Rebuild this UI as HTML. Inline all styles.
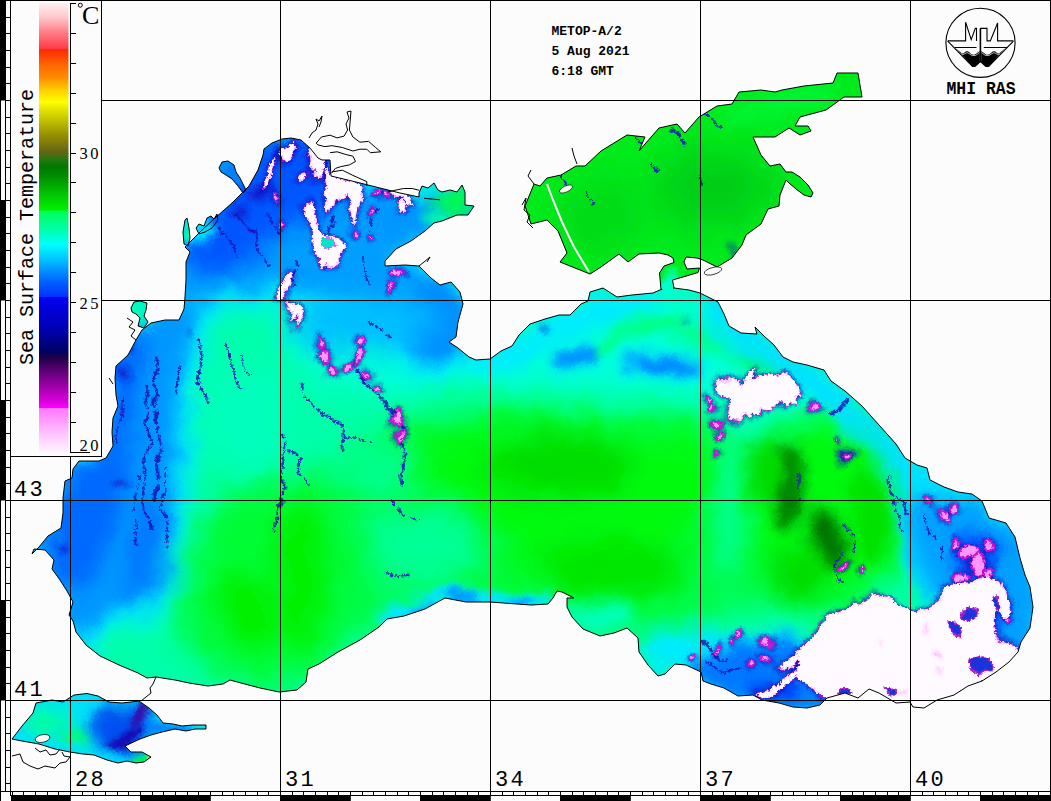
<!DOCTYPE html>
<html><head><meta charset="utf-8"><title>SST Black Sea</title>
<style>html,body{margin:0;padding:0;background:#fcfcfc;}body{width:1051px;height:801px;overflow:hidden;font-family:"Liberation Mono",monospace;}svg{display:block;}</style></head><body>
<svg width="1051" height="801" viewBox="0 0 1051 801">
<defs>
<clipPath id="sea"><path d="M185.0,247.0 L200.0,232.0 L215.0,218.0 L232.0,203.0 L249.0,186.0 L258.0,170.0 L263.0,155.0 L264.0,149.0 L272.0,143.0 L282.0,139.0 L291.0,138.0 L301.0,140.0 L310.0,148.0 L318.0,158.0 L322.0,160.0 L330.0,160.0 L331.0,176.0 L360.0,183.0 L400.0,193.0 L419.0,197.0 L419.0,193.0 L422.0,186.0 L428.0,188.0 L434.0,183.0 L438.0,190.0 L442.0,192.0 L450.0,190.0 L457.0,192.0 L462.0,185.0 L465.0,192.0 L465.0,205.0 L474.0,206.0 L468.0,215.0 L457.0,215.0 L442.0,221.0 L434.0,223.0 L425.0,231.0 L411.0,241.0 L396.0,249.0 L385.0,261.0 L385.0,266.0 L405.0,265.0 L419.0,266.0 L431.0,278.0 L440.0,285.0 L451.0,282.0 L460.0,292.0 L463.0,304.0 L458.0,322.0 L456.0,337.0 L449.0,342.0 L458.0,348.0 L469.0,357.0 L476.0,360.0 L490.0,359.0 L501.0,351.0 L512.0,346.0 L519.0,335.0 L530.0,324.0 L545.0,319.0 L559.0,315.0 L570.0,315.0 L581.0,304.0 L588.0,301.0 L590.0,292.0 L603.0,288.0 L617.0,297.0 L632.0,295.0 L653.0,293.0 L661.0,289.5 L674.0,288.0 L689.0,290.0 L700.0,293.0 L718.0,302.0 L724.0,314.0 L729.0,326.0 L741.0,333.0 L757.0,334.0 L755.0,327.0 L764.0,336.0 L774.0,345.0 L783.0,357.0 L793.0,362.0 L807.0,365.0 L824.0,370.0 L831.0,381.0 L845.0,391.0 L862.0,406.0 L879.0,425.0 L896.0,444.0 L905.0,458.0 L917.0,465.0 L927.0,468.0 L930.0,480.0 L944.0,487.0 L958.0,492.0 L972.0,494.0 L982.0,501.0 L989.0,518.0 L1006.0,523.0 L1015.0,537.0 L1020.0,558.0 L1025.0,575.0 L1030.0,587.0 L1033.0,607.0 L1030.0,628.0 L1021.0,642.0 L1018.0,652.0 L1009.0,662.0 L996.0,672.0 L982.0,681.0 L968.0,686.0 L954.0,695.0 L937.0,700.0 L924.0,708.0 L913.0,707.0 L910.0,702.0 L896.0,703.0 L879.0,693.0 L869.0,689.0 L858.0,698.0 L845.0,693.0 L827.0,698.0 L820.0,705.0 L807.0,708.0 L793.0,707.0 L779.0,703.0 L762.0,700.0 L753.0,695.0 L738.0,696.0 L724.0,688.0 L711.0,684.0 L703.0,681.0 L701.0,672.0 L686.0,665.0 L675.0,664.0 L665.0,674.0 L658.0,676.0 L648.0,665.0 L639.0,652.0 L638.0,638.0 L627.0,628.0 L614.0,633.0 L600.0,636.0 L583.0,629.0 L572.0,617.0 L567.0,607.0 L567.0,598.0 L574.0,598.0 L562.0,592.0 L557.0,591.0 L553.0,598.0 L548.0,604.0 L531.0,605.0 L517.0,604.0 L490.0,602.0 L466.0,602.0 L445.0,598.0 L425.0,609.0 L404.0,616.0 L387.0,619.0 L379.0,627.0 L360.0,640.0 L338.0,652.0 L319.0,664.0 L308.0,669.0 L306.0,682.0 L297.0,690.0 L279.0,692.0 L260.0,688.0 L241.0,683.0 L230.0,680.0 L223.0,684.0 L208.0,686.0 L189.0,683.0 L175.0,680.0 L156.0,677.0 L147.0,678.0 L138.0,673.0 L119.0,665.0 L100.0,656.0 L86.0,645.0 L76.0,632.0 L73.0,621.0 L69.0,615.0 L73.0,602.0 L67.0,591.0 L60.0,580.0 L52.0,569.0 L54.0,560.0 L45.0,550.0 L34.0,549.0 L32.0,554.0 L39.0,547.0 L48.0,536.0 L61.0,528.0 L63.0,513.0 L63.0,498.0 L65.0,481.0 L72.0,478.0 L73.0,469.0 L79.0,461.0 L99.0,461.0 L106.0,458.0 L113.0,446.0 L112.0,432.0 L113.0,418.0 L118.0,406.0 L116.0,395.0 L115.0,378.0 L116.0,366.0 L128.0,355.0 L136.0,340.0 L142.0,330.0 L151.0,323.0 L165.0,320.0 L179.0,320.0 L184.0,309.0 L185.0,297.0 L186.0,280.0 L186.0,262.0 L190.0,252.0Z M534.0,184.0 L525.0,206.0 L531.0,224.0 L547.0,220.0 L558.0,231.0 L567.0,253.0 L560.0,262.0 L590.0,274.0 L601.0,267.0 L619.0,254.0 L628.0,262.0 L639.0,254.0 L659.0,253.0 L668.0,255.0 L673.0,258.0 L674.0,262.5 L664.0,266.0 L659.5,273.0 L661.0,289.5 L674.0,288.0 L672.5,280.0 L683.0,277.0 L698.0,272.5 L699.5,268.0 L687.0,269.0 L684.0,262.0 L686.0,257.0 L697.0,258.0 L703.0,260.0 L717.0,267.0 L732.0,258.0 L742.0,245.0 L746.0,235.0 L761.0,224.0 L768.0,209.0 L779.0,206.0 L780.0,195.0 L786.0,180.0 L789.0,183.0 L796.0,189.0 L804.0,195.0 L811.0,197.0 L813.0,193.0 L808.0,185.0 L800.0,177.0 L792.0,172.0 L786.0,172.0 L780.0,164.0 L770.0,166.0 L761.0,155.0 L753.0,137.0 L775.0,137.0 L789.0,128.0 L800.0,135.0 L811.0,131.0 L808.0,126.0 L795.0,126.0 L800.0,117.0 L826.0,110.0 L844.0,97.0 L862.0,97.0 L858.0,73.0 L837.0,73.0 L833.0,83.0 L804.0,86.0 L782.0,90.0 L775.0,92.0 L761.0,90.0 L739.0,92.0 L732.0,104.0 L717.0,106.0 L699.0,117.0 L685.0,133.0 L677.0,124.0 L659.0,128.0 L645.0,144.0 L639.0,151.0 L645.0,137.0 L627.0,135.0 L601.0,151.0 L585.0,166.0 L576.0,166.0 L561.0,175.0 L547.0,178.0 L540.0,186.0Z M12.0,739.0 L22.0,726.0 L33.0,713.0 L36.0,703.0 L52.0,700.0 L63.0,702.0 L74.0,695.0 L87.0,693.5 L98.0,696.0 L109.0,702.0 L122.0,703.0 L131.0,702.0 L139.0,701.0 L149.0,708.0 L157.0,715.0 L163.0,723.0 L173.0,724.0 L182.0,726.0 L193.0,725.0 L206.0,725.0 L206.0,729.0 L195.0,729.0 L186.0,731.0 L175.0,729.0 L162.0,732.0 L151.0,735.0 L140.0,739.0 L125.0,746.0 L131.0,752.0 L142.0,752.0 L151.0,757.0 L144.0,762.0 L136.0,763.0 L127.0,761.0 L118.0,763.0 L107.0,760.0 L94.0,755.0 L83.0,754.0 L70.0,752.0 L55.0,749.0 L39.0,744.0 L22.0,741.0Z M219.0,168.0 L222.0,162.0 L228.0,161.0 L234.0,165.0 L236.0,172.0 L240.0,178.0 L243.0,184.0 L246.0,190.0 L243.0,193.0 L238.0,186.0 L232.0,179.0 L226.0,175.0 L221.0,172.0Z M184.0,244.0 L183.0,232.0 L185.0,220.0 L187.0,218.0 L189.0,228.0 L190.0,238.0 L188.0,246.0Z M196.0,228.0 L199.0,224.0 L204.0,226.0 L207.0,218.0 L211.0,216.0 L214.0,219.0 L217.0,214.0 L218.0,220.0 L212.0,228.0 L205.0,232.0 L199.0,234.0Z M131.0,308.0 L134.0,302.0 L140.0,301.0 L147.0,303.0 L146.0,310.0 L144.0,316.0 L148.0,322.0 L144.0,328.0 L138.0,326.0 L140.0,318.0 L136.0,314.0 L132.0,312.0Z"/></clipPath>
<filter id="b2" x="-150%" y="-150%" width="400%" height="400%"><feGaussianBlur stdDeviation="2"/></filter>
<filter id="b3" x="-150%" y="-150%" width="400%" height="400%"><feGaussianBlur stdDeviation="3"/></filter>
<filter id="b4" x="-150%" y="-150%" width="400%" height="400%"><feGaussianBlur stdDeviation="4"/></filter>
<filter id="b5" x="-150%" y="-150%" width="400%" height="400%"><feGaussianBlur stdDeviation="5"/></filter>
<filter id="b6" x="-150%" y="-150%" width="400%" height="400%"><feGaussianBlur stdDeviation="6"/></filter>
<filter id="b7" x="-150%" y="-150%" width="400%" height="400%"><feGaussianBlur stdDeviation="7"/></filter>
<filter id="b8" x="-150%" y="-150%" width="400%" height="400%"><feGaussianBlur stdDeviation="8"/></filter>
<filter id="b9" x="-150%" y="-150%" width="400%" height="400%"><feGaussianBlur stdDeviation="9"/></filter>
<filter id="b10" x="-150%" y="-150%" width="400%" height="400%"><feGaussianBlur stdDeviation="10"/></filter>
<filter id="b11" x="-150%" y="-150%" width="400%" height="400%"><feGaussianBlur stdDeviation="11"/></filter>
<filter id="b12" x="-150%" y="-150%" width="400%" height="400%"><feGaussianBlur stdDeviation="12"/></filter>
<filter id="b13" x="-150%" y="-150%" width="400%" height="400%"><feGaussianBlur stdDeviation="13"/></filter>
<filter id="b14" x="-150%" y="-150%" width="400%" height="400%"><feGaussianBlur stdDeviation="14"/></filter>
<filter id="b15" x="-150%" y="-150%" width="400%" height="400%"><feGaussianBlur stdDeviation="15"/></filter>
<filter id="b16" x="-150%" y="-150%" width="400%" height="400%"><feGaussianBlur stdDeviation="16"/></filter>
<filter id="b17" x="-150%" y="-150%" width="400%" height="400%"><feGaussianBlur stdDeviation="17"/></filter>
<filter id="b18" x="-150%" y="-150%" width="400%" height="400%"><feGaussianBlur stdDeviation="18"/></filter>
<filter id="b19" x="-150%" y="-150%" width="400%" height="400%"><feGaussianBlur stdDeviation="19"/></filter>
<filter id="b20" x="-150%" y="-150%" width="400%" height="400%"><feGaussianBlur stdDeviation="20"/></filter>
<filter id="b21" x="-150%" y="-150%" width="400%" height="400%"><feGaussianBlur stdDeviation="21"/></filter>
<filter id="b22" x="-150%" y="-150%" width="400%" height="400%"><feGaussianBlur stdDeviation="22"/></filter>
<filter id="b23" x="-150%" y="-150%" width="400%" height="400%"><feGaussianBlur stdDeviation="23"/></filter>
<filter id="b24" x="-150%" y="-150%" width="400%" height="400%"><feGaussianBlur stdDeviation="24"/></filter>
<filter id="b25" x="-150%" y="-150%" width="400%" height="400%"><feGaussianBlur stdDeviation="25"/></filter>
<filter id="b26" x="-150%" y="-150%" width="400%" height="400%"><feGaussianBlur stdDeviation="26"/></filter>
<filter id="b27" x="-150%" y="-150%" width="400%" height="400%"><feGaussianBlur stdDeviation="27"/></filter>
<filter id="b28" x="-150%" y="-150%" width="400%" height="400%"><feGaussianBlur stdDeviation="28"/></filter>
<filter id="b29" x="-150%" y="-150%" width="400%" height="400%"><feGaussianBlur stdDeviation="29"/></filter>
<filter id="b30" x="-150%" y="-150%" width="400%" height="400%"><feGaussianBlur stdDeviation="30"/></filter>
<filter id="b31" x="-150%" y="-150%" width="400%" height="400%"><feGaussianBlur stdDeviation="31"/></filter>
<filter id="b32" x="-150%" y="-150%" width="400%" height="400%"><feGaussianBlur stdDeviation="32"/></filter>
<filter id="b33" x="-150%" y="-150%" width="400%" height="400%"><feGaussianBlur stdDeviation="33"/></filter>
<filter id="b34" x="-150%" y="-150%" width="400%" height="400%"><feGaussianBlur stdDeviation="34"/></filter>
<filter id="b35" x="-150%" y="-150%" width="400%" height="400%"><feGaussianBlur stdDeviation="35"/></filter>
<filter id="b36" x="-150%" y="-150%" width="400%" height="400%"><feGaussianBlur stdDeviation="36"/></filter>
<filter id="b37" x="-150%" y="-150%" width="400%" height="400%"><feGaussianBlur stdDeviation="37"/></filter>
<filter id="b38" x="-150%" y="-150%" width="400%" height="400%"><feGaussianBlur stdDeviation="38"/></filter>
<filter id="b39" x="-150%" y="-150%" width="400%" height="400%"><feGaussianBlur stdDeviation="39"/></filter>
<filter id="b40" x="-150%" y="-150%" width="400%" height="400%"><feGaussianBlur stdDeviation="40"/></filter>
<filter id="rough" filterUnits="userSpaceOnUse" x="0" y="0" width="1051" height="801"><feTurbulence type="fractalNoise" baseFrequency="0.03" numOctaves="3" seed="4" result="n1"/><feDisplacementMap in="SourceGraphic" in2="n1" scale="22" xChannelSelector="R" yChannelSelector="G" result="d1"/><feTurbulence type="fractalNoise" baseFrequency="0.45" numOctaves="1" seed="9" result="n2"/><feDisplacementMap in="d1" in2="n2" scale="5" xChannelSelector="G" yChannelSelector="R"/></filter>
<filter id="b1" x="-20%" y="-20%" width="140%" height="140%"><feGaussianBlur stdDeviation="1"/></filter>
<linearGradient id="cb" x1="0" y1="0" x2="0" y2="1">
<stop offset="0.0000" stop-color="#fff0f0"/>
<stop offset="0.0315" stop-color="#ffc8cc"/>
<stop offset="0.0678" stop-color="#ff7882"/>
<stop offset="0.1016" stop-color="#ff3c46"/>
<stop offset="0.1032" stop-color="#ff2800"/>
<stop offset="0.1356" stop-color="#ff6400"/>
<stop offset="0.1656" stop-color="#ff8c00"/>
<stop offset="0.1956" stop-color="#ffd200"/>
<stop offset="0.2199" stop-color="#ffff00"/>
<stop offset="0.2461" stop-color="#d7d700"/>
<stop offset="0.2934" stop-color="#969000"/>
<stop offset="0.3312" stop-color="#646414"/>
<stop offset="0.3470" stop-color="#28780f"/>
<stop offset="0.3628" stop-color="#007800"/>
<stop offset="0.3849" stop-color="#008c00"/>
<stop offset="0.4271" stop-color="#00c800"/>
<stop offset="0.4606" stop-color="#00f000"/>
<stop offset="0.4637" stop-color="#00ff5a"/>
<stop offset="0.5047" stop-color="#00ffaa"/>
<stop offset="0.5363" stop-color="#00ffff"/>
<stop offset="0.5678" stop-color="#00c8ff"/>
<stop offset="0.6183" stop-color="#0064ff"/>
<stop offset="0.6536" stop-color="#0032ff"/>
<stop offset="0.6552" stop-color="#0000f0"/>
<stop offset="0.7256" stop-color="#0000b4"/>
<stop offset="0.7760" stop-color="#000064"/>
<stop offset="0.7886" stop-color="#1e0046"/>
<stop offset="0.8265" stop-color="#6e0082"/>
<stop offset="0.8864" stop-color="#dc00dc"/>
<stop offset="0.9006" stop-color="#ff00ff"/>
<stop offset="0.9022" stop-color="#ff78ff"/>
<stop offset="0.9621" stop-color="#ffc8ff"/>
<stop offset="1.0000" stop-color="#fff5ff"/>
</linearGradient>
</defs>
<rect x="0" y="0" width="1051" height="801" fill="#fcfcfc"/>
<g clip-path="url(#sea)">
<g filter="url(#rough)">
<rect x="-40" y="20" width="1131" height="800" fill="#00ffaa"/>
<path d="M270.0,280.0 L340.0,295.0 L400.0,325.0 L430.0,360.0 L462.0,345.0 L520.0,335.0 L580.0,300.0 L660.0,285.0 L725.0,295.0 L765.0,335.0 L805.0,362.0 L835.0,378.0 L845.0,412.0 L790.0,428.0 L700.0,405.0 L640.0,398.0 L560.0,392.0 L480.0,388.0 L400.0,390.0 L330.0,390.0 L285.0,345.0Z" fill="#00ffd7" filter="url(#b14)"/>
<path d="M470.0,358.0 L520.0,335.0 L560.0,316.0 L585.0,305.0 L600.0,292.0 L650.0,296.0 L660.0,300.0 L640.0,318.0 L600.0,328.0 L560.0,343.0 L520.0,363.0 L480.0,375.0Z" fill="#00ebff" filter="url(#b8)"/>
<path d="M20.0,480.0 L64.0,480.0 L108.0,440.0 L110.0,370.0 L138.0,322.0 L181.0,300.0 L181.0,250.0 L258.0,140.0 L300.0,132.0 L332.0,158.0 L336.0,178.0 L430.0,198.0 L480.0,200.0 L480.0,215.0 L440.0,238.0 L395.0,252.0 L385.0,262.0 L420.0,266.0 L468.0,293.0 L468.0,345.0 L432.0,366.0 L405.0,335.0 L345.0,303.0 L285.0,286.0 L225.0,290.0 L196.0,306.0 L184.0,355.0 L176.0,430.0 L172.0,520.0 L172.0,575.0 L148.0,598.0 L110.0,612.0 L78.0,640.0 L40.0,600.0Z" fill="#00ebff" stroke="#00ebff" stroke-width="36" stroke-linejoin="round" filter="url(#b12)"/>
<path d="M20.0,480.0 L64.0,480.0 L108.0,440.0 L110.0,370.0 L138.0,322.0 L181.0,300.0 L181.0,250.0 L258.0,140.0 L300.0,132.0 L332.0,158.0 L336.0,178.0 L430.0,198.0 L480.0,200.0 L480.0,215.0 L440.0,238.0 L395.0,252.0 L385.0,262.0 L420.0,266.0 L468.0,293.0 L468.0,345.0 L432.0,366.0 L405.0,335.0 L345.0,303.0 L285.0,286.0 L225.0,290.0 L196.0,306.0 L184.0,355.0 L176.0,430.0 L172.0,520.0 L172.0,575.0 L148.0,598.0 L110.0,612.0 L78.0,640.0 L40.0,600.0Z" fill="#0096ff" filter="url(#b10)"/>
<path d="M181.0,250.0 L258.0,140.0 L300.0,132.0 L325.0,160.0 L332.0,205.0 L305.0,240.0 L262.0,252.0 L222.0,272.0 L190.0,270.0Z" fill="#0055ff" filter="url(#b10)"/>
<path d="M108.0,372.0 L136.0,330.0 L150.0,338.0 L134.0,400.0 L128.0,470.0 L116.0,525.0 L100.0,565.0 L80.0,592.0 L44.0,575.0 L60.0,500.0 L63.0,480.0 L108.0,450.0Z" fill="#0069ff" filter="url(#b9)"/>
<ellipse cx="145" cy="545" rx="16" ry="55" fill="#0078ff" filter="url(#b9)" transform="rotate(10 145 545)"/>
<ellipse cx="432" cy="318" rx="20" ry="40" fill="#0082ff" filter="url(#b10)"/>
<ellipse cx="330" cy="250" rx="60" ry="30" fill="#00a0ff" filter="url(#b14)"/>
<ellipse cx="365" cy="322" rx="75" ry="30" fill="#00beff" filter="url(#b14)"/>
<ellipse cx="575" cy="358" rx="28" ry="12" fill="#00ebff" filter="url(#b8)" transform="rotate(-10 575 358)"/>
<ellipse cx="665" cy="366" rx="42" ry="14" fill="#00ebff" filter="url(#b8)" transform="rotate(5 665 366)"/>
<ellipse cx="575" cy="358" rx="24" ry="9" fill="#0091ff" filter="url(#b5)" transform="rotate(-10 575 358)"/>
<ellipse cx="665" cy="366" rx="36" ry="10" fill="#0087ff" filter="url(#b6)" transform="rotate(5 665 366)"/>
<ellipse cx="545" cy="296" rx="16" ry="7" fill="#00b4ff" filter="url(#b5)"/>
<ellipse cx="650" cy="324" rx="40" ry="9" fill="#00ff82" filter="url(#b6)" transform="rotate(-10 650 324)"/>
<ellipse cx="702" cy="338" rx="32" ry="11" fill="#00ff82" filter="url(#b8)" transform="rotate(20 702 338)"/>
<ellipse cx="765" cy="368" rx="36" ry="11" fill="#00fa50" filter="url(#b8)" transform="rotate(32 765 368)"/>
<ellipse cx="610" cy="345" rx="22" ry="7" fill="#00ff8c" filter="url(#b5)" transform="rotate(-25 610 345)"/>
<path d="M400.0,425.0 L500.0,410.0 L600.0,417.0 L700.0,422.0 L740.0,452.0 L762.0,432.0 L880.0,432.0 L912.0,472.0 L905.0,560.0 L862.0,600.0 L800.0,612.0 L742.0,602.0 L692.0,642.0 L640.0,632.0 L600.0,634.0 L560.0,592.0 L480.0,597.0 L420.0,602.0 L360.0,632.0 L300.0,682.0 L230.0,674.0 L190.0,642.0 L185.0,590.0 L200.0,540.0 L225.0,500.0 L285.0,484.0 L340.0,472.0Z" fill="#00fc46" filter="url(#b16)"/>
<path d="M410.0,432.0 L500.0,420.0 L600.0,430.0 L700.0,428.0 L735.0,470.0 L705.0,525.0 L650.0,585.0 L580.0,600.0 L500.0,575.0 L430.0,520.0 L395.0,470.0Z" fill="#00fa0a" filter="url(#b20)"/>
<ellipse cx="560" cy="465" rx="75" ry="30" fill="#00dc00" filter="url(#b14)"/>
<ellipse cx="610" cy="568" rx="70" ry="28" fill="#00e600" filter="url(#b12)"/>
<ellipse cx="470" cy="560" rx="55" ry="30" fill="#00fa32" filter="url(#b14)"/>
<ellipse cx="425" cy="545" rx="62" ry="45" fill="#00ff96" filter="url(#b16)"/>
<ellipse cx="380" cy="470" rx="40" ry="30" fill="#00ff8c" filter="url(#b14)"/>
<path d="M378.0,612.0 L425.0,597.0 L445.0,588.0 L470.0,592.0 L520.0,594.0 L548.0,594.0 L553.0,600.0 L546.0,609.0 L520.0,610.0 L466.0,608.0 L445.0,604.0 L425.0,615.0 L383.0,628.0Z" fill="#00e6ff" filter="url(#b5)"/>
<ellipse cx="462" cy="598" rx="18" ry="5" fill="#0096ff" filter="url(#b3)"/>
<ellipse cx="520" cy="601" rx="14" ry="4" fill="#00a0ff" filter="url(#b3)"/>
<ellipse cx="420" cy="607" rx="12" ry="5" fill="#00aaff" filter="url(#b3)" transform="rotate(-20 420 607)"/>
<ellipse cx="602" cy="616" rx="36" ry="14" fill="#00ffbe" filter="url(#b8)"/>
<ellipse cx="688" cy="652" rx="46" ry="24" fill="#00ebff" filter="url(#b10)"/>
<path d="M228.0,500.0 L285.0,487.0 L340.0,498.0 L348.0,560.0 L332.0,640.0 L292.0,680.0 L232.0,670.0 L196.0,640.0 L194.0,590.0 L210.0,540.0Z" fill="#00fc32" filter="url(#b18)"/>
<ellipse cx="300" cy="575" rx="24" ry="75" fill="#00f000" filter="url(#b12)"/>
<ellipse cx="250" cy="610" rx="28" ry="40" fill="#00f000" filter="url(#b12)" transform="rotate(-40 250 610)"/>
<ellipse cx="245" cy="415" rx="38" ry="55" fill="#00ffbe" filter="url(#b16)"/>
<ellipse cx="825" cy="510" rx="76" ry="88" fill="#00fa0a" filter="url(#b16)"/>
<ellipse cx="788" cy="485" rx="16" ry="44" fill="#007d00" filter="url(#b7)"/>
<ellipse cx="826" cy="542" rx="17" ry="32" fill="#007300" filter="url(#b7)" transform="rotate(-10 826 542)"/>
<ellipse cx="765" cy="470" rx="18" ry="35" fill="#00dc00" filter="url(#b10)"/>
<ellipse cx="872" cy="515" rx="20" ry="48" fill="#00e100" filter="url(#b9)"/>
<ellipse cx="800" cy="575" rx="30" ry="25" fill="#00dc00" filter="url(#b12)"/>
<ellipse cx="728" cy="505" rx="16" ry="75" fill="#00ff8c" filter="url(#b10)"/>
<ellipse cx="745" cy="410" rx="30" ry="25" fill="#00ffaa" filter="url(#b10)"/>
<path d="M715.0,295.0 L760.0,330.0 L830.0,372.0 L900.0,442.0 L990.0,498.0 L1035.0,560.0 L1040.0,640.0 L1005.0,640.0 L965.0,540.0 L905.0,492.0 L855.0,432.0 L805.0,397.0 L745.0,352.0 L700.0,322.0Z" fill="#00e1ff" filter="url(#b9)"/>
<path d="M690.0,660.0 L735.0,642.0 L790.0,640.0 L830.0,655.0 L845.0,700.0 L800.0,712.0 L740.0,700.0 L690.0,682.0Z" fill="#00ebff" stroke="#00ebff" stroke-width="14" stroke-linejoin="round" filter="url(#b8)"/>
<path d="M690.0,660.0 L735.0,642.0 L790.0,640.0 L830.0,655.0 L845.0,700.0 L800.0,712.0 L740.0,700.0 L690.0,682.0Z" fill="#0078ff" filter="url(#b8)"/>
<ellipse cx="775" cy="690" rx="28" ry="10" fill="#0041f5" filter="url(#b5)"/>
<path d="M905.0,500.0 L960.0,493.0 L1040.0,540.0 L1045.0,640.0 L1000.0,672.0 L960.0,640.0 L940.0,600.0 L915.0,560.0Z" fill="#00ebff" stroke="#00ebff" stroke-width="16" stroke-linejoin="round" filter="url(#b8)"/>
<path d="M905.0,500.0 L960.0,493.0 L1040.0,540.0 L1045.0,640.0 L1000.0,672.0 L960.0,640.0 L940.0,600.0 L915.0,560.0Z" fill="#00a0ff" filter="url(#b10)"/>
<ellipse cx="985" cy="615" rx="25" ry="22" fill="#0069ff" filter="url(#b8)"/>
<ellipse cx="975" cy="555" rx="22" ry="25" fill="#005aff" filter="url(#b7)"/>
<ellipse cx="455" cy="203" rx="22" ry="16" fill="#00fa50" filter="url(#b8)"/>
<ellipse cx="440" cy="222" rx="18" ry="8" fill="#00ffaa" filter="url(#b6)"/>
<path d="M520.0,60.0 L870.0,60.0 L870.0,285.0 L520.0,285.0Z" fill="#00eb1e"/>
<ellipse cx="715" cy="188" rx="60" ry="38" fill="#00cd14" filter="url(#b18)"/>
<ellipse cx="600" cy="215" rx="45" ry="40" fill="#00dc19" filter="url(#b16)"/>
<ellipse cx="780" cy="105" rx="60" ry="14" fill="#00f532" filter="url(#b8)" transform="rotate(-15 780 105)"/>
<ellipse cx="667" cy="284" rx="8" ry="7" fill="#00ffd2" filter="url(#b3)"/>
<ellipse cx="668" cy="274" rx="6" ry="5" fill="#00ff8c" filter="url(#b3)"/>
<path d="M0.0,685.0 L215.0,685.0 L215.0,770.0 L0.0,770.0Z" fill="#00e1fa"/>
<ellipse cx="45" cy="722" rx="22" ry="14" fill="#00ffa0" filter="url(#b8)"/>
<ellipse cx="75" cy="738" rx="14" ry="10" fill="#00ff78" filter="url(#b6)"/>
<ellipse cx="122" cy="728" rx="32" ry="26" fill="#0050f0" filter="url(#b8)"/>
<ellipse cx="168" cy="726" rx="26" ry="8" fill="#0082ff" filter="url(#b4)"/>
<ellipse cx="140" cy="715" rx="5" ry="14" fill="#3c00a0" filter="url(#b3)" transform="rotate(20 140 715)"/>
<ellipse cx="125" cy="738" rx="22" ry="5" fill="#1400aa" filter="url(#b3)" transform="rotate(-25 125 738)"/>
<ellipse cx="140" cy="757" rx="10" ry="5" fill="#00f546" filter="url(#b3)"/>
<ellipse cx="149" cy="757" rx="3" ry="3" fill="#f0f000" filter="url(#b1)"/>
<ellipse cx="232" cy="176" rx="14" ry="18" fill="#0082ff" filter="url(#b4)"/>
<ellipse cx="198" cy="230" rx="22" ry="16" fill="#00dcff" filter="url(#b4)"/>
<ellipse cx="186" cy="232" rx="4" ry="12" fill="#00ff96" filter="url(#b2)"/>
<ellipse cx="140" cy="312" rx="10" ry="14" fill="#00ffb4" filter="url(#b4)"/>
<path d="M159.0,356.0 L156.0,400.0 L155.0,445.0 L157.0,497.0" fill="none" stroke="#1914b9" stroke-width="2.97" stroke-dasharray="2 2 3 5 1 1 4 1" stroke-linecap="round" opacity="0.85"/>
<path d="M198.0,341.0 L201.0,365.0 L204.0,387.0 L209.0,402.0" fill="none" stroke="#1914b9" stroke-width="3.38" stroke-dasharray="2 4 1 4 2 1 1 3" stroke-linecap="round" opacity="0.85"/>
<path d="M149.0,387.0 L145.0,430.0 L143.0,473.0 L147.0,505.0 L152.0,531.0" fill="none" stroke="#1914b9" stroke-width="2.70" stroke-dasharray="3 1 2 1 4 3 1 4" stroke-linecap="round" opacity="0.85"/>
<path d="M175.0,364.0 L177.0,393.0" fill="none" stroke="#1914b9" stroke-width="2.70" stroke-dasharray="1 2 5 5 4 1 4 4" stroke-linecap="round" opacity="0.85"/>
<path d="M226.0,347.0 L232.0,368.0 L238.0,387.0" fill="none" stroke="#1914b9" stroke-width="2.43" stroke-dasharray="3 1 2 1 4 2 2 3" stroke-linecap="round" opacity="0.85"/>
<path d="M166.0,470.0 L163.0,500.0 L166.0,530.0 L172.0,548.0" fill="none" stroke="#1914b9" stroke-width="2.43" stroke-dasharray="2 4 1 4 2 4 5 2" stroke-linecap="round" opacity="0.85"/>
<path d="M137.0,480.0 L133.0,520.0 L138.0,548.0" fill="none" stroke="#1914b9" stroke-width="2.16" stroke-dasharray="1 4 4 5 2 2 1 4" stroke-linecap="round" opacity="0.85"/>
<path d="M120.0,400.0 L118.0,440.0" fill="none" stroke="#1914b9" stroke-width="2.16" stroke-dasharray="5 1 4 1 4 2 3 5" stroke-linecap="round" opacity="0.85"/>
<path d="M245.0,352.0 L252.0,375.0" fill="none" stroke="#1914b9" stroke-width="2.03" stroke-dasharray="4 3 2 3 4 3 2 2" stroke-linecap="round" opacity="0.85"/>
<path d="M235.0,209.0 L245.0,224.0 L255.0,238.0" fill="none" stroke="#1914b9" stroke-width="2.70" stroke-dasharray="2 2 5 2 1 4 2 4" stroke-linecap="round" opacity="0.85"/>
<path d="M222.0,225.0 L230.0,240.0 L240.0,256.0" fill="none" stroke="#1914b9" stroke-width="2.16" stroke-dasharray="3 2 5 3 2 4 1 1" stroke-linecap="round" opacity="0.85"/>
<path d="M250.0,232.0 L262.0,250.0 L270.0,268.0" fill="none" stroke="#1914b9" stroke-width="2.16" stroke-dasharray="4 3 2 2 2 3 3 1" stroke-linecap="round" opacity="0.85"/>
<path d="M268.0,212.0 L280.0,232.0" fill="none" stroke="#1914b9" stroke-width="2.16" stroke-dasharray="5 1 4 4 2 2 5 2" stroke-linecap="round" opacity="0.85"/>
<path d="M336.0,215.0 L330.0,232.0" fill="none" stroke="#1914b9" stroke-width="2.16" stroke-dasharray="4 3 4 3 1 1 2 3" stroke-linecap="round" opacity="0.85"/>
<path d="M382.0,210.0 L372.0,230.0" fill="none" stroke="#1914b9" stroke-width="2.03" stroke-dasharray="5 5 1 1 5 5 2 5" stroke-linecap="round" opacity="0.85"/>
<path d="M297.0,262.0 L300.0,285.0" fill="none" stroke="#1914b9" stroke-width="2.03" stroke-dasharray="4 5 3 2 5 3 5 2" stroke-linecap="round" opacity="0.85"/>
<path d="M362.0,262.0 L366.0,280.0" fill="none" stroke="#1914b9" stroke-width="2.03" stroke-dasharray="1 3 2 2 4 1 3 1" stroke-linecap="round" opacity="0.85"/>
<path d="M302.0,382.0 L310.0,396.0 L320.0,407.0 L332.0,422.0 L342.0,435.0 L341.0,455.0" fill="none" stroke="#1914b9" stroke-width="2.70" stroke-dasharray="2 2 2 5 2 3 3 3" stroke-linecap="round" opacity="0.85"/>
<path d="M357.0,370.0 L370.0,385.0 L385.0,402.0 L396.0,418.0 L402.0,432.0 L402.0,460.0 L403.0,485.0" fill="none" stroke="#1914b9" stroke-width="2.97" stroke-dasharray="1 2 3 3 4 2 2 3" stroke-linecap="round" opacity="0.85"/>
<path d="M371.0,322.0 L380.0,330.0 L388.0,336.0" fill="none" stroke="#1914b9" stroke-width="2.43" stroke-dasharray="4 2 5 3 2 5 3 2" stroke-linecap="round" opacity="0.85"/>
<path d="M287.0,452.0 L298.0,466.0 L306.0,478.0 L312.0,487.0" fill="none" stroke="#1914b9" stroke-width="2.16" stroke-dasharray="2 1 2 2 2 5 2 1" stroke-linecap="round" opacity="0.85"/>
<path d="M280.0,432.0 L283.0,470.0 L281.0,505.0 L279.0,530.0" fill="none" stroke="#1914b9" stroke-width="2.43" stroke-dasharray="3 4 2 2 2 1 2 3" stroke-linecap="round" opacity="0.85"/>
<path d="M343.0,442.0 L360.0,445.0 L372.0,444.0" fill="none" stroke="#1914b9" stroke-width="1.89" stroke-dasharray="4 2 4 4 2 2 5 4" stroke-linecap="round" opacity="0.85"/>
<path d="M392.0,500.0 L405.0,510.0 L420.0,520.0" fill="none" stroke="#1914b9" stroke-width="1.89" stroke-dasharray="4 5 5 5 1 3 5 4" stroke-linecap="round" opacity="0.85"/>
<path d="M385.0,572.0 L398.0,580.0 L410.0,578.0" fill="none" stroke="#1914b9" stroke-width="2.43" stroke-dasharray="3 3 3 3 1 3 5 3" stroke-linecap="round" opacity="0.85"/>
<path d="M827.0,417.0 L835.0,407.0 L848.0,396.0" fill="none" stroke="#1914b9" stroke-width="2.70" stroke-dasharray="1 2 1 2 3 2 1 2" stroke-linecap="round" opacity="0.85"/>
<path d="M889.0,472.0 L895.0,490.0 L903.0,505.0 L910.0,513.0" fill="none" stroke="#1914b9" stroke-width="2.16" stroke-dasharray="4 1 1 1 4 2 4 1" stroke-linecap="round" opacity="0.85"/>
<path d="M838.0,548.0 L834.0,565.0 L840.0,580.0 L846.0,585.0" fill="none" stroke="#1914b9" stroke-width="2.16" stroke-dasharray="2 4 1 1 2 4 3 2" stroke-linecap="round" opacity="0.85"/>
<path d="M842.0,522.0 L848.0,535.0 L850.0,548.0" fill="none" stroke="#1914b9" stroke-width="1.89" stroke-dasharray="5 2 2 4 2 3 1 1" stroke-linecap="round" opacity="0.85"/>
<path d="M896.0,500.0 L900.0,520.0 L905.0,532.0" fill="none" stroke="#1914b9" stroke-width="1.89" stroke-dasharray="3 3 3 3 2 1 2 1" stroke-linecap="round" opacity="0.85"/>
<path d="M800.0,470.0 L800.0,500.0" fill="none" stroke="#1914b9" stroke-width="1.35" stroke-dasharray="5 2 5 2 3 5 2 4" stroke-linecap="round" opacity="0.85"/>
<path d="M700.0,640.0 L715.0,652.0 L730.0,660.0" fill="none" stroke="#1914b9" stroke-width="2.43" stroke-dasharray="1 2 4 2 2 5 4 1" stroke-linecap="round" opacity="0.85"/>
<path d="M706.0,660.0 L720.0,668.0 L740.0,672.0" fill="none" stroke="#1914b9" stroke-width="2.43" stroke-dasharray="4 2 5 1 5 2 4 2" stroke-linecap="round" opacity="0.85"/>
<path d="M925.0,520.0 L935.0,540.0 L940.0,560.0" fill="none" stroke="#1914b9" stroke-width="2.16" stroke-dasharray="2 2 2 4 4 4 2 5" stroke-linecap="round" opacity="0.85"/>
<path d="M670.0,133.0 L680.0,142.0 L688.0,151.0" fill="none" stroke="#1914b9" stroke-width="3.38" stroke-dasharray="2 4 2 2 3 5 2 2" stroke-linecap="round" opacity="0.85"/>
<path d="M587.0,187.0 L590.0,195.0 L592.0,202.0" fill="none" stroke="#1914b9" stroke-width="2.70" stroke-dasharray="4 3 2 5 1 1 2 3" stroke-linecap="round" opacity="0.85"/>
<path d="M563.0,176.0 L566.0,184.0" fill="none" stroke="#1914b9" stroke-width="2.70" stroke-dasharray="2 2 5 4 2 3 5 2" stroke-linecap="round" opacity="0.85"/>
<path d="M636.0,135.0 L640.0,142.0" fill="none" stroke="#1914b9" stroke-width="2.70" stroke-dasharray="2 1 2 1 2 3 2 2" stroke-linecap="round" opacity="0.85"/>
<path d="M700.0,115.0 L712.0,118.0 L720.0,121.0" fill="none" stroke="#1914b9" stroke-width="2.16" stroke-dasharray="2 3 4 4 1 3 5 2" stroke-linecap="round" opacity="0.85"/>
<path d="M700.0,178.0 L704.0,184.0" fill="none" stroke="#1914b9" stroke-width="2.03" stroke-dasharray="5 1 5 1 3 5 2 3" stroke-linecap="round" opacity="0.85"/>
<path d="M655.0,165.0 L660.0,172.0" fill="none" stroke="#1914b9" stroke-width="2.03" stroke-dasharray="2 3 5 2 1 5 3 3" stroke-linecap="round" opacity="0.85"/>
<ellipse cx="126" cy="377" rx="6" ry="9" fill="#0a14c8" filter="url(#b3)" opacity="0.8"/>
<ellipse cx="119" cy="487" rx="5" ry="5" fill="#0a14c8" filter="url(#b3)" opacity="0.8"/>
<ellipse cx="186" cy="336" rx="3" ry="3" fill="#0a14c8" filter="url(#b3)" opacity="0.8"/>
<ellipse cx="128" cy="348" rx="5" ry="7" fill="#0a14c8" filter="url(#b3)" opacity="0.8"/>
<ellipse cx="62" cy="545" rx="5" ry="6" fill="#0a14c8" filter="url(#b3)" opacity="0.8"/>
<ellipse cx="262" cy="192" rx="14" ry="7" fill="#0a14c8" filter="url(#b3)" opacity="0.8"/>
<ellipse cx="240" cy="207" rx="10" ry="6" fill="#0a14c8" filter="url(#b3)" opacity="0.8"/>
<ellipse cx="283" cy="150" rx="8" ry="10" fill="#0a14c8" filter="url(#b3)" opacity="0.8"/>
<ellipse cx="318" cy="168" rx="6" ry="14" fill="#0a14c8" filter="url(#b3)" opacity="0.8"/>
<ellipse cx="845" cy="456" rx="11" ry="8" fill="#0a14c8" filter="url(#b3)" opacity="0.8"/>
<ellipse cx="548" cy="330" rx="5" ry="2.5" fill="#0a14c8" filter="url(#b3)" opacity="0.8"/>
<ellipse cx="684" cy="318" rx="3" ry="2" fill="#0a14c8" filter="url(#b3)" opacity="0.8"/>
<ellipse cx="737" cy="249" rx="5" ry="3" fill="#0a14c8" filter="url(#b3)" opacity="0.8"/>
<path d="M791.0,653.0 L800.0,645.0 L807.0,638.0 L824.0,624.0 L841.0,610.0 L851.0,602.0 L858.0,604.0 L865.0,601.0 L872.0,598.0 L877.0,596.0 L885.0,601.0 L893.0,604.0 L903.0,610.0 L912.0,611.0 L921.0,607.0 L930.0,606.0 L938.0,602.0 L944.0,596.0 L950.0,590.0 L958.0,583.0 L970.0,582.0 L982.0,579.0 L992.0,578.0 L999.0,580.0 L1006.0,588.0 L1013.0,597.0 L1015.0,610.0 L1010.0,616.0 L1004.0,617.0 L998.0,612.0 L992.0,610.0 L988.0,616.0 L989.0,624.0 L994.0,632.0 L999.0,638.0 L1010.0,643.0 L1024.0,645.0 L1022.0,660.0 L1009.0,668.0 L996.0,678.0 L982.0,687.0 L968.0,692.0 L954.0,700.0 L937.0,706.0 L924.0,714.0 L913.0,712.0 L910.0,708.0 L896.0,709.0 L879.0,699.0 L869.0,695.0 L858.0,704.0 L845.0,699.0 L836.0,699.0 L827.0,697.0 L820.0,690.0 L817.0,686.0 L810.0,681.0 L803.0,676.0 L798.0,668.0 L796.0,662.0Z M756.0,693.0 L766.0,686.0 L778.0,680.0 L790.0,672.0 L797.0,668.0 L800.0,674.0 L790.0,681.0 L780.0,688.0 L770.0,694.0 L762.0,698.0Z M776.0,664.0 L786.0,660.0 L794.0,658.0 L796.0,663.0 L788.0,667.0 L780.0,669.0Z M719.0,382.0 L735.0,381.0 L745.0,386.0 L750.0,374.0 L757.0,369.0 L753.5,381.0 L764.0,379.0 L783.0,375.6 L793.0,381.0 L800.0,389.0 L803.0,396.0 L793.0,393.0 L795.0,403.0 L786.0,399.6 L783.0,406.5 L774.0,401.0 L772.5,410.0 L764.0,405.0 L762.0,413.0 L753.5,410.0 L752.0,417.0 L743.0,413.0 L734.7,422.0 L724.0,420.0 L726.0,406.5 L731.0,398.0 L724.0,393.0Z M277.7,155.0 L280.0,158.0 L273.0,172.0 L266.0,188.0 L262.0,190.0 L262.0,186.0 L268.0,172.0Z M281.0,142.0 L286.0,141.0 L292.6,142.0 L292.0,150.0 L293.0,157.0 L289.0,158.0 L286.0,152.0 L283.0,150.0Z M303.0,140.5 L307.4,149.0 L311.0,156.0 L316.0,161.5 L318.8,163.0 L318.8,173.7 L316.0,180.7 L312.7,182.4 L311.0,175.4 L307.4,168.4 L306.6,159.7 L304.0,151.0Z M322.0,172.0 L333.6,175.0 L345.9,178.0 L355.5,181.0 L361.0,184.0 L361.6,199.9 L358.0,203.4 L356.4,212.0 L354.6,222.6 L352.0,223.5 L350.2,213.9 L347.6,206.9 L345.0,199.9 L342.4,196.4 L338.9,201.7 L335.4,199.9 L332.8,208.6 L329.3,210.4 L327.5,201.7 L324.9,194.7 L324.0,187.7Z M389.6,192.0 L398.0,191.0 L407.0,192.0 L407.0,196.4 L398.0,196.4 L390.0,196.0Z M407.0,195.0 L412.0,194.5 L415.8,197.0 L414.0,204.0 L409.0,205.0 L407.0,200.0Z M398.0,201.0 L404.0,200.0 L407.0,206.0 L403.0,212.0 L398.0,210.0Z M297.8,175.5 L303.0,174.6 L305.7,178.0 L303.0,181.6 L298.5,181.0Z M305.7,203.4 L311.0,200.8 L315.0,205.0 L317.0,212.0 L315.0,217.4 L318.0,222.6 L322.0,229.6 L326.0,233.0 L330.0,238.4 L334.0,243.6 L336.0,250.6 L334.0,258.0 L334.5,265.0 L331.0,267.0 L328.4,261.0 L325.0,266.0 L321.5,261.0 L318.0,258.0 L314.0,254.0 L312.0,248.8 L314.0,241.8 L312.0,234.9 L313.5,227.9 L310.0,220.9 L307.4,213.9 L305.7,208.6Z M296.0,274.0 L299.0,278.0 L292.0,290.0 L284.0,300.0 L278.0,303.0 L281.0,292.0 L288.0,282.0Z M288.0,303.0 L296.0,305.0 L299.0,328.0 L295.0,330.0 L292.0,316.0 L289.0,325.0 L287.0,312.0Z" fill="#1400b4" stroke="#1400b4" stroke-width="4.5" stroke-linejoin="round" filter="url(#b2)" opacity="0.8"/>
<path d="M353.8,235.0 L353.2,237.9 L351.7,239.8 L349.9,239.8 L348.4,237.9 L347.8,235.0 L348.4,232.1 L349.9,230.2 L351.7,230.2 L353.2,232.1Z M286.5,224.0 L285.9,225.8 L284.4,226.9 L282.6,226.9 L281.1,225.8 L280.5,224.0 L281.1,222.2 L282.6,221.1 L284.4,221.1 L285.9,222.2Z M281.8,199.9 L280.5,201.0 L278.3,201.2 L276.0,200.3 L274.5,198.8 L274.2,197.1 L275.5,196.0 L277.7,195.8 L280.0,196.7 L281.5,198.2Z M387.5,197.0 L387.0,198.5 L385.8,199.4 L384.2,199.4 L383.0,198.5 L382.5,197.0 L383.0,195.5 L384.2,194.6 L385.8,194.6 L387.0,195.5Z M377.0,213.0 L376.5,214.2 L375.3,214.9 L373.7,214.9 L372.5,214.2 L372.0,213.0 L372.5,211.8 L373.7,211.1 L375.3,211.1 L376.5,211.8Z M375.0,239.0 L374.4,240.2 L372.9,240.9 L371.1,240.9 L369.6,240.2 L369.0,239.0 L369.6,237.8 L371.1,237.1 L372.9,237.1 L374.4,237.8Z M323.8,339.0 L324.5,342.5 L323.8,345.0 L322.1,345.7 L319.9,344.1 L318.2,341.0 L317.5,337.5 L318.2,335.0 L319.9,334.3 L322.1,335.9Z M328.9,355.3 L329.1,360.6 L327.7,364.2 L325.3,364.6 L322.7,361.8 L321.1,356.7 L320.9,351.4 L322.3,347.8 L324.7,347.4 L327.3,350.2Z M336.0,372.0 L335.2,374.9 L333.2,376.8 L330.8,376.8 L328.8,374.9 L328.0,372.0 L328.8,369.1 L330.8,367.2 L333.2,367.2 L335.2,369.1Z M352.2,365.0 L352.4,367.6 L350.5,370.4 L347.3,372.2 L344.0,372.5 L341.8,371.0 L341.6,368.4 L343.5,365.6 L346.7,363.8 L350.0,363.5Z M361.0,358.0 L360.2,360.9 L358.2,362.8 L355.8,362.8 L353.8,360.9 L353.0,358.0 L353.8,355.1 L355.8,353.2 L358.2,353.2 L360.2,355.1Z M360.8,344.0 L358.9,347.7 L356.6,349.6 L354.9,348.9 L354.3,346.0 L355.2,342.0 L357.1,338.3 L359.4,336.4 L361.1,337.1 L361.7,340.0Z M381.1,387.6 L379.3,388.4 L377.1,388.0 L375.2,386.4 L374.4,384.3 L374.9,382.4 L376.7,381.6 L378.9,382.0 L380.8,383.6 L381.6,385.7Z M399.9,417.2 L400.6,421.9 L399.9,425.1 L398.1,425.6 L395.9,423.2 L394.1,418.8 L393.4,414.1 L394.1,410.9 L395.9,410.4 L398.1,412.8Z M403.0,438.0 L402.6,442.1 L401.6,444.7 L400.4,444.7 L399.4,442.1 L399.0,438.0 L399.4,433.9 L400.4,431.3 L401.6,431.3 L402.6,433.9Z M369.0,374.0 L368.4,375.8 L366.9,376.9 L365.1,376.9 L363.6,375.8 L363.0,374.0 L363.6,372.2 L365.1,371.1 L366.9,371.1 L368.4,372.2Z M401.0,274.0 L400.2,276.9 L398.2,278.8 L395.8,278.8 L393.8,276.9 L393.0,274.0 L393.8,271.1 L395.8,269.2 L398.2,269.2 L400.2,271.1Z M390.9,289.7 L389.5,292.3 L388.0,293.7 L386.8,293.3 L386.5,291.2 L387.1,288.3 L388.5,285.7 L390.0,284.3 L391.2,284.7 L391.5,286.8Z M315.0,160.0 L314.4,161.8 L312.9,162.9 L311.1,162.9 L309.6,161.8 L309.0,160.0 L309.6,158.2 L311.1,157.1 L312.9,157.1 L314.4,158.2Z M381.0,192.0 L380.4,193.2 L378.9,193.9 L377.1,193.9 L375.6,193.2 L375.0,192.0 L375.6,190.8 L377.1,190.1 L378.9,190.1 L380.4,190.8Z M712.0,398.0 L711.4,399.8 L709.9,400.9 L708.1,400.9 L706.6,399.8 L706.0,398.0 L706.6,396.2 L708.1,395.1 L709.9,395.1 L711.4,396.2Z M715.0,408.0 L714.6,410.4 L713.6,411.8 L712.4,411.8 L711.4,410.4 L711.0,408.0 L711.4,405.6 L712.4,404.2 L713.6,404.2 L714.6,405.6Z M717.9,425.7 L716.7,427.8 L715.3,428.8 L714.1,428.4 L713.7,426.7 L714.1,424.3 L715.3,422.2 L716.7,421.2 L717.9,421.6 L718.3,423.3Z M720.9,437.7 L719.7,439.8 L718.3,440.8 L717.1,440.4 L716.7,438.7 L717.1,436.3 L718.3,434.2 L719.7,433.2 L720.9,433.6 L721.3,435.3Z M715.5,455.0 L715.2,456.2 L714.5,456.9 L713.5,456.9 L712.8,456.2 L712.5,455.0 L712.8,453.8 L713.5,453.1 L714.5,453.1 L715.2,453.8Z M819.1,408.1 L819.3,410.1 L817.9,412.5 L815.4,414.2 L812.7,414.8 L810.9,413.9 L810.7,411.9 L812.1,409.5 L814.6,407.8 L817.3,407.2Z M843.0,438.0 L842.6,439.2 L841.6,439.9 L840.4,439.9 L839.4,439.2 L839.0,438.0 L839.4,436.8 L840.4,436.1 L841.6,436.1 L842.6,436.8Z M849.5,457.0 L848.8,458.5 L847.1,459.4 L844.9,459.4 L843.2,458.5 L842.5,457.0 L843.2,455.5 L844.9,454.6 L847.1,454.6 L848.8,455.5Z M957.0,506.0 L956.2,509.5 L954.2,511.7 L951.8,511.7 L949.8,509.5 L949.0,506.0 L949.8,502.5 L951.8,500.3 L954.2,500.3 L956.2,502.5Z M946.7,513.7 L948.4,518.8 L948.5,522.4 L946.8,523.1 L944.0,520.8 L941.3,516.3 L939.6,511.2 L939.5,507.6 L941.2,506.9 L944.0,509.2Z M962.0,545.0 L961.0,547.4 L958.5,548.8 L955.5,548.8 L953.0,547.4 L952.0,545.0 L953.0,542.6 L955.5,541.2 L958.5,541.2 L961.0,542.6Z M973.6,553.9 L974.2,558.8 L972.3,562.5 L968.9,563.8 L965.0,562.1 L962.4,558.1 L961.8,553.2 L963.7,549.5 L967.1,548.2 L971.0,549.9Z M984.9,564.8 L984.6,570.8 L981.8,575.0 L977.5,575.7 L973.4,572.8 L971.1,567.2 L971.4,561.2 L974.2,557.0 L978.5,556.3 L982.6,559.2Z M990.0,548.0 L989.2,551.5 L987.2,553.7 L984.8,553.7 L982.8,551.5 L982.0,548.0 L982.8,544.5 L984.8,542.3 L987.2,542.3 L989.2,544.5Z M968.0,575.0 L966.9,577.9 L963.9,579.8 L960.1,579.8 L957.1,577.9 L956.0,575.0 L957.1,572.1 L960.1,570.2 L963.9,570.2 L966.9,572.1Z M993.9,572.7 L992.4,577.2 L989.9,579.7 L987.5,579.3 L986.0,576.1 L986.1,571.3 L987.6,566.8 L990.1,564.3 L992.5,564.7 L994.0,567.9Z M933.0,503.0 L932.4,504.2 L930.9,504.9 L929.1,504.9 L927.6,504.2 L927.0,503.0 L927.6,501.8 L929.1,501.1 L930.9,501.1 L932.4,501.8Z M1013.0,620.0 L1012.4,621.8 L1010.9,622.9 L1009.1,622.9 L1007.6,621.8 L1007.0,620.0 L1007.6,618.2 L1009.1,617.1 L1010.9,617.1 L1012.4,618.2Z M744.0,634.0 L743.4,636.4 L741.9,637.8 L740.1,637.8 L738.6,636.4 L738.0,634.0 L738.6,631.6 L740.1,630.2 L741.9,630.2 L743.4,631.6Z M735.0,641.0 L734.6,642.8 L733.6,643.9 L732.4,643.9 L731.4,642.8 L731.0,641.0 L731.4,639.2 L732.4,638.1 L733.6,638.1 L734.6,639.2Z M718.0,648.0 L717.6,649.8 L716.6,650.9 L715.4,650.9 L714.4,649.8 L714.0,648.0 L714.4,646.2 L715.4,645.1 L716.6,645.1 L717.6,646.2Z M770.0,642.0 L769.4,644.4 L767.9,645.8 L766.1,645.8 L764.6,644.4 L764.0,642.0 L764.6,639.6 L766.1,638.2 L767.9,638.2 L769.4,639.6Z M769.0,659.0 L768.0,660.8 L765.5,661.9 L762.5,661.9 L760.0,660.8 L759.0,659.0 L760.0,657.2 L762.5,656.1 L765.5,656.1 L768.0,657.2Z M753.0,668.0 L752.4,669.8 L750.9,670.9 L749.1,670.9 L747.6,669.8 L747.0,668.0 L747.6,666.2 L749.1,665.1 L750.9,665.1 L752.4,666.2Z M844.7,568.0 L842.6,570.9 L840.7,572.3 L839.6,571.6 L839.8,569.2 L841.3,566.0 L843.4,563.1 L845.3,561.7 L846.4,562.4 L846.2,564.8Z M862.9,570.3 L863.3,572.7 L862.9,574.4 L861.7,574.8 L860.3,573.8 L859.1,571.7 L858.7,569.3 L859.1,567.6 L860.3,567.2 L861.7,568.2Z M691.0,656.0 L690.4,657.8 L688.9,658.9 L687.1,658.9 L685.6,657.8 L685.0,656.0 L685.6,654.2 L687.1,653.1 L688.9,653.1 L690.4,654.2Z" fill="#1400b4" stroke="#1400b4" stroke-width="4.5" stroke-linejoin="round" filter="url(#b2)" opacity="0.8"/>
<path d="M791.0,653.0 L800.0,645.0 L807.0,638.0 L824.0,624.0 L841.0,610.0 L851.0,602.0 L858.0,604.0 L865.0,601.0 L872.0,598.0 L877.0,596.0 L885.0,601.0 L893.0,604.0 L903.0,610.0 L912.0,611.0 L921.0,607.0 L930.0,606.0 L938.0,602.0 L944.0,596.0 L950.0,590.0 L958.0,583.0 L970.0,582.0 L982.0,579.0 L992.0,578.0 L999.0,580.0 L1006.0,588.0 L1013.0,597.0 L1015.0,610.0 L1010.0,616.0 L1004.0,617.0 L998.0,612.0 L992.0,610.0 L988.0,616.0 L989.0,624.0 L994.0,632.0 L999.0,638.0 L1010.0,643.0 L1024.0,645.0 L1022.0,660.0 L1009.0,668.0 L996.0,678.0 L982.0,687.0 L968.0,692.0 L954.0,700.0 L937.0,706.0 L924.0,714.0 L913.0,712.0 L910.0,708.0 L896.0,709.0 L879.0,699.0 L869.0,695.0 L858.0,704.0 L845.0,699.0 L836.0,699.0 L827.0,697.0 L820.0,690.0 L817.0,686.0 L810.0,681.0 L803.0,676.0 L798.0,668.0 L796.0,662.0Z M756.0,693.0 L766.0,686.0 L778.0,680.0 L790.0,672.0 L797.0,668.0 L800.0,674.0 L790.0,681.0 L780.0,688.0 L770.0,694.0 L762.0,698.0Z M776.0,664.0 L786.0,660.0 L794.0,658.0 L796.0,663.0 L788.0,667.0 L780.0,669.0Z M719.0,382.0 L735.0,381.0 L745.0,386.0 L750.0,374.0 L757.0,369.0 L753.5,381.0 L764.0,379.0 L783.0,375.6 L793.0,381.0 L800.0,389.0 L803.0,396.0 L793.0,393.0 L795.0,403.0 L786.0,399.6 L783.0,406.5 L774.0,401.0 L772.5,410.0 L764.0,405.0 L762.0,413.0 L753.5,410.0 L752.0,417.0 L743.0,413.0 L734.7,422.0 L724.0,420.0 L726.0,406.5 L731.0,398.0 L724.0,393.0Z M277.7,155.0 L280.0,158.0 L273.0,172.0 L266.0,188.0 L262.0,190.0 L262.0,186.0 L268.0,172.0Z M281.0,142.0 L286.0,141.0 L292.6,142.0 L292.0,150.0 L293.0,157.0 L289.0,158.0 L286.0,152.0 L283.0,150.0Z M303.0,140.5 L307.4,149.0 L311.0,156.0 L316.0,161.5 L318.8,163.0 L318.8,173.7 L316.0,180.7 L312.7,182.4 L311.0,175.4 L307.4,168.4 L306.6,159.7 L304.0,151.0Z M322.0,172.0 L333.6,175.0 L345.9,178.0 L355.5,181.0 L361.0,184.0 L361.6,199.9 L358.0,203.4 L356.4,212.0 L354.6,222.6 L352.0,223.5 L350.2,213.9 L347.6,206.9 L345.0,199.9 L342.4,196.4 L338.9,201.7 L335.4,199.9 L332.8,208.6 L329.3,210.4 L327.5,201.7 L324.9,194.7 L324.0,187.7Z M389.6,192.0 L398.0,191.0 L407.0,192.0 L407.0,196.4 L398.0,196.4 L390.0,196.0Z M407.0,195.0 L412.0,194.5 L415.8,197.0 L414.0,204.0 L409.0,205.0 L407.0,200.0Z M398.0,201.0 L404.0,200.0 L407.0,206.0 L403.0,212.0 L398.0,210.0Z M297.8,175.5 L303.0,174.6 L305.7,178.0 L303.0,181.6 L298.5,181.0Z M305.7,203.4 L311.0,200.8 L315.0,205.0 L317.0,212.0 L315.0,217.4 L318.0,222.6 L322.0,229.6 L326.0,233.0 L330.0,238.4 L334.0,243.6 L336.0,250.6 L334.0,258.0 L334.5,265.0 L331.0,267.0 L328.4,261.0 L325.0,266.0 L321.5,261.0 L318.0,258.0 L314.0,254.0 L312.0,248.8 L314.0,241.8 L312.0,234.9 L313.5,227.9 L310.0,220.9 L307.4,213.9 L305.7,208.6Z M296.0,274.0 L299.0,278.0 L292.0,290.0 L284.0,300.0 L278.0,303.0 L281.0,292.0 L288.0,282.0Z M288.0,303.0 L296.0,305.0 L299.0,328.0 L295.0,330.0 L292.0,316.0 L289.0,325.0 L287.0,312.0Z" fill="#e628e6" stroke="#c814d2" stroke-width="1.8" stroke-linejoin="round"/>
<path d="M353.8,235.0 L353.2,237.9 L351.7,239.8 L349.9,239.8 L348.4,237.9 L347.8,235.0 L348.4,232.1 L349.9,230.2 L351.7,230.2 L353.2,232.1Z M286.5,224.0 L285.9,225.8 L284.4,226.9 L282.6,226.9 L281.1,225.8 L280.5,224.0 L281.1,222.2 L282.6,221.1 L284.4,221.1 L285.9,222.2Z M281.8,199.9 L280.5,201.0 L278.3,201.2 L276.0,200.3 L274.5,198.8 L274.2,197.1 L275.5,196.0 L277.7,195.8 L280.0,196.7 L281.5,198.2Z M387.5,197.0 L387.0,198.5 L385.8,199.4 L384.2,199.4 L383.0,198.5 L382.5,197.0 L383.0,195.5 L384.2,194.6 L385.8,194.6 L387.0,195.5Z M377.0,213.0 L376.5,214.2 L375.3,214.9 L373.7,214.9 L372.5,214.2 L372.0,213.0 L372.5,211.8 L373.7,211.1 L375.3,211.1 L376.5,211.8Z M375.0,239.0 L374.4,240.2 L372.9,240.9 L371.1,240.9 L369.6,240.2 L369.0,239.0 L369.6,237.8 L371.1,237.1 L372.9,237.1 L374.4,237.8Z M323.8,339.0 L324.5,342.5 L323.8,345.0 L322.1,345.7 L319.9,344.1 L318.2,341.0 L317.5,337.5 L318.2,335.0 L319.9,334.3 L322.1,335.9Z M328.9,355.3 L329.1,360.6 L327.7,364.2 L325.3,364.6 L322.7,361.8 L321.1,356.7 L320.9,351.4 L322.3,347.8 L324.7,347.4 L327.3,350.2Z M336.0,372.0 L335.2,374.9 L333.2,376.8 L330.8,376.8 L328.8,374.9 L328.0,372.0 L328.8,369.1 L330.8,367.2 L333.2,367.2 L335.2,369.1Z M352.2,365.0 L352.4,367.6 L350.5,370.4 L347.3,372.2 L344.0,372.5 L341.8,371.0 L341.6,368.4 L343.5,365.6 L346.7,363.8 L350.0,363.5Z M361.0,358.0 L360.2,360.9 L358.2,362.8 L355.8,362.8 L353.8,360.9 L353.0,358.0 L353.8,355.1 L355.8,353.2 L358.2,353.2 L360.2,355.1Z M360.8,344.0 L358.9,347.7 L356.6,349.6 L354.9,348.9 L354.3,346.0 L355.2,342.0 L357.1,338.3 L359.4,336.4 L361.1,337.1 L361.7,340.0Z M381.1,387.6 L379.3,388.4 L377.1,388.0 L375.2,386.4 L374.4,384.3 L374.9,382.4 L376.7,381.6 L378.9,382.0 L380.8,383.6 L381.6,385.7Z M399.9,417.2 L400.6,421.9 L399.9,425.1 L398.1,425.6 L395.9,423.2 L394.1,418.8 L393.4,414.1 L394.1,410.9 L395.9,410.4 L398.1,412.8Z M403.0,438.0 L402.6,442.1 L401.6,444.7 L400.4,444.7 L399.4,442.1 L399.0,438.0 L399.4,433.9 L400.4,431.3 L401.6,431.3 L402.6,433.9Z M369.0,374.0 L368.4,375.8 L366.9,376.9 L365.1,376.9 L363.6,375.8 L363.0,374.0 L363.6,372.2 L365.1,371.1 L366.9,371.1 L368.4,372.2Z M401.0,274.0 L400.2,276.9 L398.2,278.8 L395.8,278.8 L393.8,276.9 L393.0,274.0 L393.8,271.1 L395.8,269.2 L398.2,269.2 L400.2,271.1Z M390.9,289.7 L389.5,292.3 L388.0,293.7 L386.8,293.3 L386.5,291.2 L387.1,288.3 L388.5,285.7 L390.0,284.3 L391.2,284.7 L391.5,286.8Z M315.0,160.0 L314.4,161.8 L312.9,162.9 L311.1,162.9 L309.6,161.8 L309.0,160.0 L309.6,158.2 L311.1,157.1 L312.9,157.1 L314.4,158.2Z M381.0,192.0 L380.4,193.2 L378.9,193.9 L377.1,193.9 L375.6,193.2 L375.0,192.0 L375.6,190.8 L377.1,190.1 L378.9,190.1 L380.4,190.8Z M712.0,398.0 L711.4,399.8 L709.9,400.9 L708.1,400.9 L706.6,399.8 L706.0,398.0 L706.6,396.2 L708.1,395.1 L709.9,395.1 L711.4,396.2Z M715.0,408.0 L714.6,410.4 L713.6,411.8 L712.4,411.8 L711.4,410.4 L711.0,408.0 L711.4,405.6 L712.4,404.2 L713.6,404.2 L714.6,405.6Z M717.9,425.7 L716.7,427.8 L715.3,428.8 L714.1,428.4 L713.7,426.7 L714.1,424.3 L715.3,422.2 L716.7,421.2 L717.9,421.6 L718.3,423.3Z M720.9,437.7 L719.7,439.8 L718.3,440.8 L717.1,440.4 L716.7,438.7 L717.1,436.3 L718.3,434.2 L719.7,433.2 L720.9,433.6 L721.3,435.3Z M715.5,455.0 L715.2,456.2 L714.5,456.9 L713.5,456.9 L712.8,456.2 L712.5,455.0 L712.8,453.8 L713.5,453.1 L714.5,453.1 L715.2,453.8Z M819.1,408.1 L819.3,410.1 L817.9,412.5 L815.4,414.2 L812.7,414.8 L810.9,413.9 L810.7,411.9 L812.1,409.5 L814.6,407.8 L817.3,407.2Z M843.0,438.0 L842.6,439.2 L841.6,439.9 L840.4,439.9 L839.4,439.2 L839.0,438.0 L839.4,436.8 L840.4,436.1 L841.6,436.1 L842.6,436.8Z M849.5,457.0 L848.8,458.5 L847.1,459.4 L844.9,459.4 L843.2,458.5 L842.5,457.0 L843.2,455.5 L844.9,454.6 L847.1,454.6 L848.8,455.5Z M957.0,506.0 L956.2,509.5 L954.2,511.7 L951.8,511.7 L949.8,509.5 L949.0,506.0 L949.8,502.5 L951.8,500.3 L954.2,500.3 L956.2,502.5Z M946.7,513.7 L948.4,518.8 L948.5,522.4 L946.8,523.1 L944.0,520.8 L941.3,516.3 L939.6,511.2 L939.5,507.6 L941.2,506.9 L944.0,509.2Z M962.0,545.0 L961.0,547.4 L958.5,548.8 L955.5,548.8 L953.0,547.4 L952.0,545.0 L953.0,542.6 L955.5,541.2 L958.5,541.2 L961.0,542.6Z M973.6,553.9 L974.2,558.8 L972.3,562.5 L968.9,563.8 L965.0,562.1 L962.4,558.1 L961.8,553.2 L963.7,549.5 L967.1,548.2 L971.0,549.9Z M984.9,564.8 L984.6,570.8 L981.8,575.0 L977.5,575.7 L973.4,572.8 L971.1,567.2 L971.4,561.2 L974.2,557.0 L978.5,556.3 L982.6,559.2Z M990.0,548.0 L989.2,551.5 L987.2,553.7 L984.8,553.7 L982.8,551.5 L982.0,548.0 L982.8,544.5 L984.8,542.3 L987.2,542.3 L989.2,544.5Z M968.0,575.0 L966.9,577.9 L963.9,579.8 L960.1,579.8 L957.1,577.9 L956.0,575.0 L957.1,572.1 L960.1,570.2 L963.9,570.2 L966.9,572.1Z M993.9,572.7 L992.4,577.2 L989.9,579.7 L987.5,579.3 L986.0,576.1 L986.1,571.3 L987.6,566.8 L990.1,564.3 L992.5,564.7 L994.0,567.9Z M933.0,503.0 L932.4,504.2 L930.9,504.9 L929.1,504.9 L927.6,504.2 L927.0,503.0 L927.6,501.8 L929.1,501.1 L930.9,501.1 L932.4,501.8Z M1013.0,620.0 L1012.4,621.8 L1010.9,622.9 L1009.1,622.9 L1007.6,621.8 L1007.0,620.0 L1007.6,618.2 L1009.1,617.1 L1010.9,617.1 L1012.4,618.2Z M744.0,634.0 L743.4,636.4 L741.9,637.8 L740.1,637.8 L738.6,636.4 L738.0,634.0 L738.6,631.6 L740.1,630.2 L741.9,630.2 L743.4,631.6Z M735.0,641.0 L734.6,642.8 L733.6,643.9 L732.4,643.9 L731.4,642.8 L731.0,641.0 L731.4,639.2 L732.4,638.1 L733.6,638.1 L734.6,639.2Z M718.0,648.0 L717.6,649.8 L716.6,650.9 L715.4,650.9 L714.4,649.8 L714.0,648.0 L714.4,646.2 L715.4,645.1 L716.6,645.1 L717.6,646.2Z M770.0,642.0 L769.4,644.4 L767.9,645.8 L766.1,645.8 L764.6,644.4 L764.0,642.0 L764.6,639.6 L766.1,638.2 L767.9,638.2 L769.4,639.6Z M769.0,659.0 L768.0,660.8 L765.5,661.9 L762.5,661.9 L760.0,660.8 L759.0,659.0 L760.0,657.2 L762.5,656.1 L765.5,656.1 L768.0,657.2Z M753.0,668.0 L752.4,669.8 L750.9,670.9 L749.1,670.9 L747.6,669.8 L747.0,668.0 L747.6,666.2 L749.1,665.1 L750.9,665.1 L752.4,666.2Z M844.7,568.0 L842.6,570.9 L840.7,572.3 L839.6,571.6 L839.8,569.2 L841.3,566.0 L843.4,563.1 L845.3,561.7 L846.4,562.4 L846.2,564.8Z M862.9,570.3 L863.3,572.7 L862.9,574.4 L861.7,574.8 L860.3,573.8 L859.1,571.7 L858.7,569.3 L859.1,567.6 L860.3,567.2 L861.7,568.2Z M691.0,656.0 L690.4,657.8 L688.9,658.9 L687.1,658.9 L685.6,657.8 L685.0,656.0 L685.6,654.2 L687.1,653.1 L688.9,653.1 L690.4,654.2Z" fill="#ff96ff" stroke="#c814d2" stroke-width="2" stroke-linejoin="round"/>
<path d="M791.0,653.0 L800.0,645.0 L807.0,638.0 L824.0,624.0 L841.0,610.0 L851.0,602.0 L858.0,604.0 L865.0,601.0 L872.0,598.0 L877.0,596.0 L885.0,601.0 L893.0,604.0 L903.0,610.0 L912.0,611.0 L921.0,607.0 L930.0,606.0 L938.0,602.0 L944.0,596.0 L950.0,590.0 L958.0,583.0 L970.0,582.0 L982.0,579.0 L992.0,578.0 L999.0,580.0 L1006.0,588.0 L1013.0,597.0 L1015.0,610.0 L1010.0,616.0 L1004.0,617.0 L998.0,612.0 L992.0,610.0 L988.0,616.0 L989.0,624.0 L994.0,632.0 L999.0,638.0 L1010.0,643.0 L1024.0,645.0 L1022.0,660.0 L1009.0,668.0 L996.0,678.0 L982.0,687.0 L968.0,692.0 L954.0,700.0 L937.0,706.0 L924.0,714.0 L913.0,712.0 L910.0,708.0 L896.0,709.0 L879.0,699.0 L869.0,695.0 L858.0,704.0 L845.0,699.0 L836.0,699.0 L827.0,697.0 L820.0,690.0 L817.0,686.0 L810.0,681.0 L803.0,676.0 L798.0,668.0 L796.0,662.0Z M756.0,693.0 L766.0,686.0 L778.0,680.0 L790.0,672.0 L797.0,668.0 L800.0,674.0 L790.0,681.0 L780.0,688.0 L770.0,694.0 L762.0,698.0Z M776.0,664.0 L786.0,660.0 L794.0,658.0 L796.0,663.0 L788.0,667.0 L780.0,669.0Z M719.0,382.0 L735.0,381.0 L745.0,386.0 L750.0,374.0 L757.0,369.0 L753.5,381.0 L764.0,379.0 L783.0,375.6 L793.0,381.0 L800.0,389.0 L803.0,396.0 L793.0,393.0 L795.0,403.0 L786.0,399.6 L783.0,406.5 L774.0,401.0 L772.5,410.0 L764.0,405.0 L762.0,413.0 L753.5,410.0 L752.0,417.0 L743.0,413.0 L734.7,422.0 L724.0,420.0 L726.0,406.5 L731.0,398.0 L724.0,393.0Z M277.7,155.0 L280.0,158.0 L273.0,172.0 L266.0,188.0 L262.0,190.0 L262.0,186.0 L268.0,172.0Z M281.0,142.0 L286.0,141.0 L292.6,142.0 L292.0,150.0 L293.0,157.0 L289.0,158.0 L286.0,152.0 L283.0,150.0Z M303.0,140.5 L307.4,149.0 L311.0,156.0 L316.0,161.5 L318.8,163.0 L318.8,173.7 L316.0,180.7 L312.7,182.4 L311.0,175.4 L307.4,168.4 L306.6,159.7 L304.0,151.0Z M322.0,172.0 L333.6,175.0 L345.9,178.0 L355.5,181.0 L361.0,184.0 L361.6,199.9 L358.0,203.4 L356.4,212.0 L354.6,222.6 L352.0,223.5 L350.2,213.9 L347.6,206.9 L345.0,199.9 L342.4,196.4 L338.9,201.7 L335.4,199.9 L332.8,208.6 L329.3,210.4 L327.5,201.7 L324.9,194.7 L324.0,187.7Z M389.6,192.0 L398.0,191.0 L407.0,192.0 L407.0,196.4 L398.0,196.4 L390.0,196.0Z M407.0,195.0 L412.0,194.5 L415.8,197.0 L414.0,204.0 L409.0,205.0 L407.0,200.0Z M398.0,201.0 L404.0,200.0 L407.0,206.0 L403.0,212.0 L398.0,210.0Z M297.8,175.5 L303.0,174.6 L305.7,178.0 L303.0,181.6 L298.5,181.0Z M305.7,203.4 L311.0,200.8 L315.0,205.0 L317.0,212.0 L315.0,217.4 L318.0,222.6 L322.0,229.6 L326.0,233.0 L330.0,238.4 L334.0,243.6 L336.0,250.6 L334.0,258.0 L334.5,265.0 L331.0,267.0 L328.4,261.0 L325.0,266.0 L321.5,261.0 L318.0,258.0 L314.0,254.0 L312.0,248.8 L314.0,241.8 L312.0,234.9 L313.5,227.9 L310.0,220.9 L307.4,213.9 L305.7,208.6Z M296.0,274.0 L299.0,278.0 L292.0,290.0 L284.0,300.0 L278.0,303.0 L281.0,292.0 L288.0,282.0Z M288.0,303.0 L296.0,305.0 L299.0,328.0 L295.0,330.0 L292.0,316.0 L289.0,325.0 L287.0,312.0Z" fill="#fffaff" stroke="#ffd2ff" stroke-width="1"/>
<path d="M323.0,240.0 L327.0,238.0 L330.0,244.0 L331.0,252.0 L327.0,254.0 L324.0,248.0Z" fill="#00e6c8" stroke="#d250e6" stroke-width="1"/>
<path d="M951.0,624.0 L958.0,622.0 L962.0,628.0 L958.0,635.0 L952.0,633.0Z M965.0,611.0 L973.0,610.0 L976.0,617.0 L970.0,622.0 L965.0,618.0Z M968.0,660.0 L978.0,658.0 L990.0,664.0 L992.0,674.0 L982.0,676.0 L972.0,670.0Z M834.0,688.0 L845.0,686.0 L851.0,692.0 L842.0,697.0 L835.0,695.0Z M886.0,684.0 L896.0,683.0 L899.0,689.0 L890.0,691.0Z M990.0,600.0 L996.0,598.0 L999.0,606.0 L993.0,610.0Z" fill="#1e32dc" stroke="#b41ec8" stroke-width="1.5" stroke-linejoin="round"/>
<circle cx="935" cy="650" r="4" fill="#ffb4ff" filter="url(#b2)"/>
<circle cx="925" cy="628" r="3" fill="#ffb4ff" filter="url(#b2)"/>
<circle cx="905" cy="690" r="3" fill="#ffb4ff" filter="url(#b2)"/>
<circle cx="940" cy="668" r="2.5" fill="#ffb4ff" filter="url(#b2)"/>
<circle cx="880" cy="640" r="2" fill="#ffb4ff" filter="url(#b2)"/>
</g></g>
<path d="M185.0,247.0 L200.0,232.0 L215.0,218.0 L232.0,203.0 L249.0,186.0 L258.0,170.0 L263.0,155.0 L264.0,149.0 L272.0,143.0 L282.0,139.0 L291.0,138.0 L301.0,140.0 L310.0,148.0 L318.0,158.0 L322.0,160.0 L330.0,160.0 L331.0,176.0 L360.0,183.0 L400.0,193.0 L419.0,197.0 L419.0,193.0 L422.0,186.0 L428.0,188.0 L434.0,183.0 L438.0,190.0 L442.0,192.0 L450.0,190.0 L457.0,192.0 L462.0,185.0 L465.0,192.0 L465.0,205.0 L474.0,206.0 L468.0,215.0 L457.0,215.0 L442.0,221.0 L434.0,223.0 L425.0,231.0 L411.0,241.0 L396.0,249.0 L385.0,261.0 L385.0,266.0 L405.0,265.0 L419.0,266.0 L431.0,278.0 L440.0,285.0 L451.0,282.0 L460.0,292.0 L463.0,304.0 L458.0,322.0 L456.0,337.0 L449.0,342.0 L458.0,348.0 L469.0,357.0 L476.0,360.0 L490.0,359.0 L501.0,351.0 L512.0,346.0 L519.0,335.0 L530.0,324.0 L545.0,319.0 L559.0,315.0 L570.0,315.0 L581.0,304.0 L588.0,301.0 L590.0,292.0 L603.0,288.0 L617.0,297.0 L632.0,295.0 L653.0,293.0 L661.0,289.5 L674.0,288.0 L689.0,290.0 L700.0,293.0 L718.0,302.0 L724.0,314.0 L729.0,326.0 L741.0,333.0 L757.0,334.0 L755.0,327.0 L764.0,336.0 L774.0,345.0 L783.0,357.0 L793.0,362.0 L807.0,365.0 L824.0,370.0 L831.0,381.0 L845.0,391.0 L862.0,406.0 L879.0,425.0 L896.0,444.0 L905.0,458.0 L917.0,465.0 L927.0,468.0 L930.0,480.0 L944.0,487.0 L958.0,492.0 L972.0,494.0 L982.0,501.0 L989.0,518.0 L1006.0,523.0 L1015.0,537.0 L1020.0,558.0 L1025.0,575.0 L1030.0,587.0 L1033.0,607.0 L1030.0,628.0 L1021.0,642.0 L1018.0,652.0 L1009.0,662.0 L996.0,672.0 L982.0,681.0 L968.0,686.0 L954.0,695.0 L937.0,700.0 L924.0,708.0 L913.0,707.0 L910.0,702.0 L896.0,703.0 L879.0,693.0 L869.0,689.0 L858.0,698.0 L845.0,693.0 L827.0,698.0 L820.0,705.0 L807.0,708.0 L793.0,707.0 L779.0,703.0 L762.0,700.0 L753.0,695.0 L738.0,696.0 L724.0,688.0 L711.0,684.0 L703.0,681.0 L701.0,672.0 L686.0,665.0 L675.0,664.0 L665.0,674.0 L658.0,676.0 L648.0,665.0 L639.0,652.0 L638.0,638.0 L627.0,628.0 L614.0,633.0 L600.0,636.0 L583.0,629.0 L572.0,617.0 L567.0,607.0 L567.0,598.0 L574.0,598.0 L562.0,592.0 L557.0,591.0 L553.0,598.0 L548.0,604.0 L531.0,605.0 L517.0,604.0 L490.0,602.0 L466.0,602.0 L445.0,598.0 L425.0,609.0 L404.0,616.0 L387.0,619.0 L379.0,627.0 L360.0,640.0 L338.0,652.0 L319.0,664.0 L308.0,669.0 L306.0,682.0 L297.0,690.0 L279.0,692.0 L260.0,688.0 L241.0,683.0 L230.0,680.0 L223.0,684.0 L208.0,686.0 L189.0,683.0 L175.0,680.0 L156.0,677.0 L147.0,678.0 L138.0,673.0 L119.0,665.0 L100.0,656.0 L86.0,645.0 L76.0,632.0 L73.0,621.0 L69.0,615.0 L73.0,602.0 L67.0,591.0 L60.0,580.0 L52.0,569.0 L54.0,560.0 L45.0,550.0 L34.0,549.0 L32.0,554.0 L39.0,547.0 L48.0,536.0 L61.0,528.0 L63.0,513.0 L63.0,498.0 L65.0,481.0 L72.0,478.0 L73.0,469.0 L79.0,461.0 L99.0,461.0 L106.0,458.0 L113.0,446.0 L112.0,432.0 L113.0,418.0 L118.0,406.0 L116.0,395.0 L115.0,378.0 L116.0,366.0 L128.0,355.0 L136.0,340.0 L142.0,330.0 L151.0,323.0 L165.0,320.0 L179.0,320.0 L184.0,309.0 L185.0,297.0 L186.0,280.0 L186.0,262.0 L190.0,252.0Z M534.0,184.0 L525.0,206.0 L531.0,224.0 L547.0,220.0 L558.0,231.0 L567.0,253.0 L560.0,262.0 L590.0,274.0 L601.0,267.0 L619.0,254.0 L628.0,262.0 L639.0,254.0 L659.0,253.0 L668.0,255.0 L673.0,258.0 L674.0,262.5 L664.0,266.0 L659.5,273.0 L661.0,289.5 L674.0,288.0 L672.5,280.0 L683.0,277.0 L698.0,272.5 L699.5,268.0 L687.0,269.0 L684.0,262.0 L686.0,257.0 L697.0,258.0 L703.0,260.0 L717.0,267.0 L732.0,258.0 L742.0,245.0 L746.0,235.0 L761.0,224.0 L768.0,209.0 L779.0,206.0 L780.0,195.0 L786.0,180.0 L789.0,183.0 L796.0,189.0 L804.0,195.0 L811.0,197.0 L813.0,193.0 L808.0,185.0 L800.0,177.0 L792.0,172.0 L786.0,172.0 L780.0,164.0 L770.0,166.0 L761.0,155.0 L753.0,137.0 L775.0,137.0 L789.0,128.0 L800.0,135.0 L811.0,131.0 L808.0,126.0 L795.0,126.0 L800.0,117.0 L826.0,110.0 L844.0,97.0 L862.0,97.0 L858.0,73.0 L837.0,73.0 L833.0,83.0 L804.0,86.0 L782.0,90.0 L775.0,92.0 L761.0,90.0 L739.0,92.0 L732.0,104.0 L717.0,106.0 L699.0,117.0 L685.0,133.0 L677.0,124.0 L659.0,128.0 L645.0,144.0 L639.0,151.0 L645.0,137.0 L627.0,135.0 L601.0,151.0 L585.0,166.0 L576.0,166.0 L561.0,175.0 L547.0,178.0 L540.0,186.0Z M12.0,739.0 L22.0,726.0 L33.0,713.0 L36.0,703.0 L52.0,700.0 L63.0,702.0 L74.0,695.0 L87.0,693.5 L98.0,696.0 L109.0,702.0 L122.0,703.0 L131.0,702.0 L139.0,701.0 L149.0,708.0 L157.0,715.0 L163.0,723.0 L173.0,724.0 L182.0,726.0 L193.0,725.0 L206.0,725.0 L206.0,729.0 L195.0,729.0 L186.0,731.0 L175.0,729.0 L162.0,732.0 L151.0,735.0 L140.0,739.0 L125.0,746.0 L131.0,752.0 L142.0,752.0 L151.0,757.0 L144.0,762.0 L136.0,763.0 L127.0,761.0 L118.0,763.0 L107.0,760.0 L94.0,755.0 L83.0,754.0 L70.0,752.0 L55.0,749.0 L39.0,744.0 L22.0,741.0Z M219.0,168.0 L222.0,162.0 L228.0,161.0 L234.0,165.0 L236.0,172.0 L240.0,178.0 L243.0,184.0 L246.0,190.0 L243.0,193.0 L238.0,186.0 L232.0,179.0 L226.0,175.0 L221.0,172.0Z M184.0,244.0 L183.0,232.0 L185.0,220.0 L187.0,218.0 L189.0,228.0 L190.0,238.0 L188.0,246.0Z M196.0,228.0 L199.0,224.0 L204.0,226.0 L207.0,218.0 L211.0,216.0 L214.0,219.0 L217.0,214.0 L218.0,220.0 L212.0,228.0 L205.0,232.0 L199.0,234.0Z M131.0,308.0 L134.0,302.0 L140.0,301.0 L147.0,303.0 L146.0,310.0 L144.0,316.0 L148.0,322.0 L144.0,328.0 L138.0,326.0 L140.0,318.0 L136.0,314.0 L132.0,312.0Z" fill="none" stroke="#000" stroke-width="1" stroke-linejoin="round"/>
<path d="M316.2,143.1 L321.4,137.0 L330.1,135.2 L337.1,137.9 L344.1,136.1 L347.6,130.0 L346.0,124.0 L349.0,118.0 L347.0,112.0 L351.0,111.0 L349.4,130.0 L352.9,137.0 L359.9,142.2 L368.6,141.4 L375.6,147.5 L380.8,151.8 L370.3,152.7 L366.8,149.2 L359.9,149.2 L352.9,151.0 L342.4,147.5 L331.9,145.7 L324.9,146.6 L317.9,144.9 L316.2,143.1" fill="none" stroke="#000" stroke-width="1"/>
<path d="M330.1,152.7 L337.1,151.8 L345.9,154.5 L352.9,156.2 L355.5,161.5 L349.4,164.9 L340.6,166.7 L335.4,168.4 L331.9,172.8" fill="none" stroke="#000" stroke-width="1"/>
<path d="M331.9,171.9 L342.4,170.2 L352.9,175.4 L366.8,181.6 L366.8,186.0" fill="none" stroke="#000" stroke-width="1"/>
<path d="M387.8,192.0 L394.8,190.3 L403.5,188.5 L412.3,188.5 L419.3,190.3" fill="none" stroke="#000" stroke-width="1"/>
<path d="M424.0,198.3 L440.0,199.8" fill="none" stroke="#000" stroke-width="1"/>
<path d="M309.0,138.0 L312.0,133.0 L316.0,130.0 L318.0,124.0 L316.0,119.0 L319.0,121.0 L322.0,116.0 L321.0,122.0 L319.0,127.0" fill="none" stroke="#000" stroke-width="1"/>
<path d="M156.0,677.0 L153.0,684.0 L150.0,688.0 L151.0,693.0 L146.0,697.0 L141.0,701.0" fill="none" stroke="#000" stroke-width="1"/>
<path d="M12.0,756.0 L20.0,754.0 L23.0,762.0 L30.0,766.0 L38.0,769.0 L45.0,766.0 L55.0,768.0 L60.0,763.0 L66.0,762.0 L70.0,757.0 L64.0,756.0 L62.0,752.0" fill="none" stroke="#000" stroke-width="1"/>
<path d="M35.0,748.0 L40.0,752.0 L46.0,750.0 L50.0,755.0 L56.0,754.0 L60.0,749.0" fill="none" stroke="#000" stroke-width="1"/>
<path d="M419.0,266.0 L424.0,262.0 L430.0,257.0 L427.0,262.0" fill="none" stroke="#000" stroke-width="1"/>
<path d="M534.0,184.0 L528.0,176.0 L531.0,170.0" fill="none" stroke="#000" stroke-width="1"/>
<path d="M522.0,205.0 L526.0,198.0 L524.0,210.0 L530.0,215.0 L527.0,222.0 L533.0,228.0" fill="none" stroke="#000" stroke-width="1"/>
<path d="M127.0,318.0 L133.0,322.0 L129.0,327.0 L135.0,330.0 L131.0,336.0 L136.0,340.0" fill="none" stroke="#000" stroke-width="1"/>
<path d="M109.0,378.0 L113.0,384.0" fill="none" stroke="#000" stroke-width="1"/>
<path d="M572.0,148.0 L574.0,156.0 L577.0,164.0" fill="none" stroke="#000" stroke-width="1"/>
<path d="M662.2,289.3 L673,288.1" stroke="#00ffd2" stroke-width="2.6" fill="none"/>
<ellipse cx="42.5" cy="738.5" rx="7.5" ry="3.8" fill="#fcfcfc" stroke="#000" stroke-width="0.7" transform="rotate(-12 42.5 738.5)"/>
<ellipse cx="713" cy="271" rx="9" ry="3.5" fill="#fcfcfc" stroke="#000" stroke-width="0.7" transform="rotate(-15 713 271)"/>
<path d="M547,184 L553,200 L562,222 L574,247 L589,272" fill="none" stroke="#fcfcfc" stroke-width="2"/>
<ellipse cx="566" cy="189" rx="7" ry="3" fill="#fcfcfc" stroke="#000" stroke-width="0.6" transform="rotate(-25 566 189)"/>
<path d="M70.5,0V792 M280.5,0V792 M490.5,0V792 M700.5,0V792 M910.5,0V792 M10,100.5H1051 M10,300.5H1051 M10,500.5H1051 M10,700.5H1051" stroke="#000" stroke-width="1" fill="none" shape-rendering="crispEdges"/>
<rect x="11" y="1" width="90" height="455" fill="#fcfcfc"/>
<path d="M101.5,0V456.5H10" stroke="#000" stroke-width="1" fill="none" shape-rendering="crispEdges"/>
<rect x="39" y="3" width="29.5" height="449.5" fill="url(#cb)"/>
<path d="M70.5,3V453 M70.5,452.5h19 M70.5,422.6h5 M70.5,392.6h5 M70.5,362.6h5 M70.5,332.7h5 M70.5,302.8h5 M70.5,272.8h5 M70.5,242.8h5 M70.5,212.9h5 M70.5,182.9h5 M70.5,153.0h5 M70.5,123.1h5 M70.5,93.1h5 M70.5,63.2h5 M70.5,33.2h5 M70.5,3.2h5" stroke="#000" stroke-width="1" fill="none" shape-rendering="crispEdges"/>
<text transform="translate(32.7,365) rotate(-90)" font-family="Liberation Mono" font-size="20" fill="#000">Sea Surface Temperature</text>
<g font-family="Liberation Serif" font-size="16.5" fill="#000" letter-spacing="2.4">
<text x="79.5" y="159">30</text>
<text x="79.5" y="308.5">25</text>
<text x="79.5" y="451.3">20</text>
</g>
<text x="82" y="23.6" font-family="Liberation Serif" font-size="26" fill="#000">C</text>
<circle cx="80.3" cy="5.2" r="2" fill="none" stroke="#000" stroke-width="1"/>

<rect x="0" y="0" width="10" height="801" fill="#fcfcfc"/>
<rect x="0" y="791" width="1051" height="10" fill="#fcfcfc"/>
<rect x="0" y="0" width="5.3" height="100.5" fill="#000"/>
<rect x="0" y="200" width="5.3" height="100.5" fill="#000"/>
<rect x="0" y="400" width="5.3" height="100.5" fill="#000"/>
<rect x="0" y="600" width="5.3" height="100.5" fill="#000"/>
<path d="M5.5,0V791 M10.5,0V796 M0.5,0V801 M1050.5,0V801 M5,0.5h5.5 M5,17.2h5.5 M5,33.8h5.5 M5,50.5h5.5 M5,67.2h5.5 M5,83.8h5.5 M5,100.5h5.5 M5,117.2h5.5 M5,133.8h5.5 M5,150.5h5.5 M5,167.2h5.5 M5,183.8h5.5 M5,200.5h5.5 M5,217.2h5.5 M5,233.8h5.5 M5,250.5h5.5 M5,267.2h5.5 M5,283.8h5.5 M5,300.5h5.5 M5,317.2h5.5 M5,333.8h5.5 M5,350.5h5.5 M5,367.2h5.5 M5,383.8h5.5 M5,400.5h5.5 M5,417.2h5.5 M5,433.8h5.5 M5,450.5h5.5 M5,467.2h5.5 M5,483.8h5.5 M5,500.5h5.5 M5,517.2h5.5 M5,533.8h5.5 M5,550.5h5.5 M5,567.2h5.5 M5,583.8h5.5 M5,600.5h5.5 M5,617.2h5.5 M5,633.8h5.5 M5,650.5h5.5 M5,667.2h5.5 M5,683.8h5.5 M5,700.5h5.5 M5,717.2h5.5 M5,733.8h5.5 M5,750.5h5.5 M5,767.2h5.5 M5,783.8h5.5 M0,791.5H1051 M10,795.5H1051 M12.2,791v4.5 M23.8,791v4.5 M35.5,791v4.5 M47.2,791v4.5 M58.8,791v4.5 M70.5,791v4.5 M82.2,791v4.5 M93.8,791v4.5 M105.5,791v4.5 M117.2,791v4.5 M128.8,791v4.5 M140.5,791v4.5 M152.2,791v4.5 M163.8,791v4.5 M175.5,791v4.5 M187.2,791v4.5 M198.8,791v4.5 M210.5,791v4.5 M222.2,791v4.5 M233.8,791v4.5 M245.5,791v4.5 M257.2,791v4.5 M268.8,791v4.5 M280.5,791v4.5 M292.2,791v4.5 M303.8,791v4.5 M315.5,791v4.5 M327.2,791v4.5 M338.8,791v4.5 M350.5,791v4.5 M362.2,791v4.5 M373.8,791v4.5 M385.5,791v4.5 M397.2,791v4.5 M408.8,791v4.5 M420.5,791v4.5 M432.2,791v4.5 M443.8,791v4.5 M455.5,791v4.5 M467.2,791v4.5 M478.8,791v4.5 M490.5,791v4.5 M502.2,791v4.5 M513.8,791v4.5 M525.5,791v4.5 M537.2,791v4.5 M548.8,791v4.5 M560.5,791v4.5 M572.2,791v4.5 M583.8,791v4.5 M595.5,791v4.5 M607.2,791v4.5 M618.8,791v4.5 M630.5,791v4.5 M642.2,791v4.5 M653.8,791v4.5 M665.5,791v4.5 M677.2,791v4.5 M688.9,791v4.5 M700.5,791v4.5 M712.2,791v4.5 M723.9,791v4.5 M735.5,791v4.5 M747.2,791v4.5 M758.9,791v4.5 M770.5,791v4.5 M782.2,791v4.5 M793.9,791v4.5 M805.5,791v4.5 M817.2,791v4.5 M828.9,791v4.5 M840.5,791v4.5 M852.2,791v4.5 M863.9,791v4.5 M875.5,791v4.5 M887.2,791v4.5 M898.9,791v4.5 M910.5,791v4.5 M922.2,791v4.5 M933.9,791v4.5 M945.5,791v4.5 M957.2,791v4.5 M968.9,791v4.5 M980.5,791v4.5 M992.2,791v4.5 M1003.9,791v4.5 M1015.5,791v4.5 M1027.2,791v4.5 M1038.9,791v4.5 M1050.5,791v4.5" stroke="#000" stroke-width="1" fill="none" shape-rendering="crispEdges"/>
<rect x="11" y="795.5" width="59.8" height="6" fill="#000"/>
<rect x="140" y="795.5" width="70.8" height="6" fill="#000"/>
<rect x="280" y="795.5" width="70.8" height="6" fill="#000"/>
<rect x="420" y="795.5" width="70.8" height="6" fill="#000"/>
<rect x="560" y="795.5" width="70.8" height="6" fill="#000"/>
<rect x="700" y="795.5" width="70.8" height="6" fill="#000"/>
<rect x="840" y="795.5" width="70.8" height="6" fill="#000"/>
<rect x="980" y="795.5" width="70.8" height="6" fill="#000"/>
<path d="M10,0.5H1051" stroke="#000" stroke-width="1" shape-rendering="crispEdges"/>
<path d="M0,791.5h10.5" stroke="#000" stroke-width="1" shape-rendering="crispEdges"/>
<g font-family="Liberation Mono" font-size="22" fill="#000" letter-spacing="2.4">
<text x="14" y="495.6">43</text>
<text x="14" y="695.6">41</text>
<text x="75" y="785.6">28</text>
<text x="285" y="785.6">31</text>
<text x="495" y="785.6">34</text>
<text x="705" y="785.6">37</text>
<text x="915" y="785.6">40</text>
</g>
<g font-family="Liberation Mono" font-weight="bold" font-size="13" fill="#000">
<text x="551.5" y="35">METOP-A/2</text>
<text x="551.5" y="55">5 Aug 2021</text>
<text x="551.5" y="75">6:18 GMT</text>
</g>
<text x="946.5" y="94" font-family="Liberation Mono" font-weight="bold" font-size="18" fill="#000" textLength="69" lengthAdjust="spacingAndGlyphs">MHI RAS</text>

<g fill="none" stroke="#000" stroke-width="1.1">
<circle cx="980.5" cy="42.8" r="34.6"/>
<path d="M947.7,40.9H965.6V22.2L971.2,39.6L975.3,28.4H976.5V40.9M980.2,28.4H987V40.9H990.3L997.6,23V40.9H1013.4"/>
<path d="M980.4,28.4V62" stroke-width="1.6"/>
<path d="M947.7,41.2L972.5,66.4H975L979.8,62L981,62L985.8,66.4H988.7L1013.4,41.2"/>
<path d="M954.6,47.5H976.5M983.8,47.5H1007.3"/>
</g>
<path d="M956.2,48.5 L960.5,52.3 Q962.5,54.5 964.5,52.5 Q967,50 969.5,52.5 Q972,55.5 975,54.5 L979.8,51 L979.8,62 L975,66.4 H972.5 Z" fill="#000"/>
<path d="M1004.8,48.5 L1000.5,52.3 Q998.5,54.5 996.5,52.5 Q994,50 991.5,52.5 Q989,55.5 986,54.5 L981.2,51 L981.2,62 L986,66.4 H988.7 Z" fill="#000"/>
<path d="M961,53.6 Q963,55.5 965,53.6 Q967,51.5 969,53.6 Q972,56.5 975.5,55.5 L979.5,52.6" fill="none" stroke="#fcfcfc" stroke-width="0.7"/>
<path d="M1000,53.6 Q998,55.5 996,53.6 Q994,51.5 992,53.6 Q989,56.5 985.5,55.5 L981.5,52.6" fill="none" stroke="#fcfcfc" stroke-width="0.7"/>

</svg></body></html>
